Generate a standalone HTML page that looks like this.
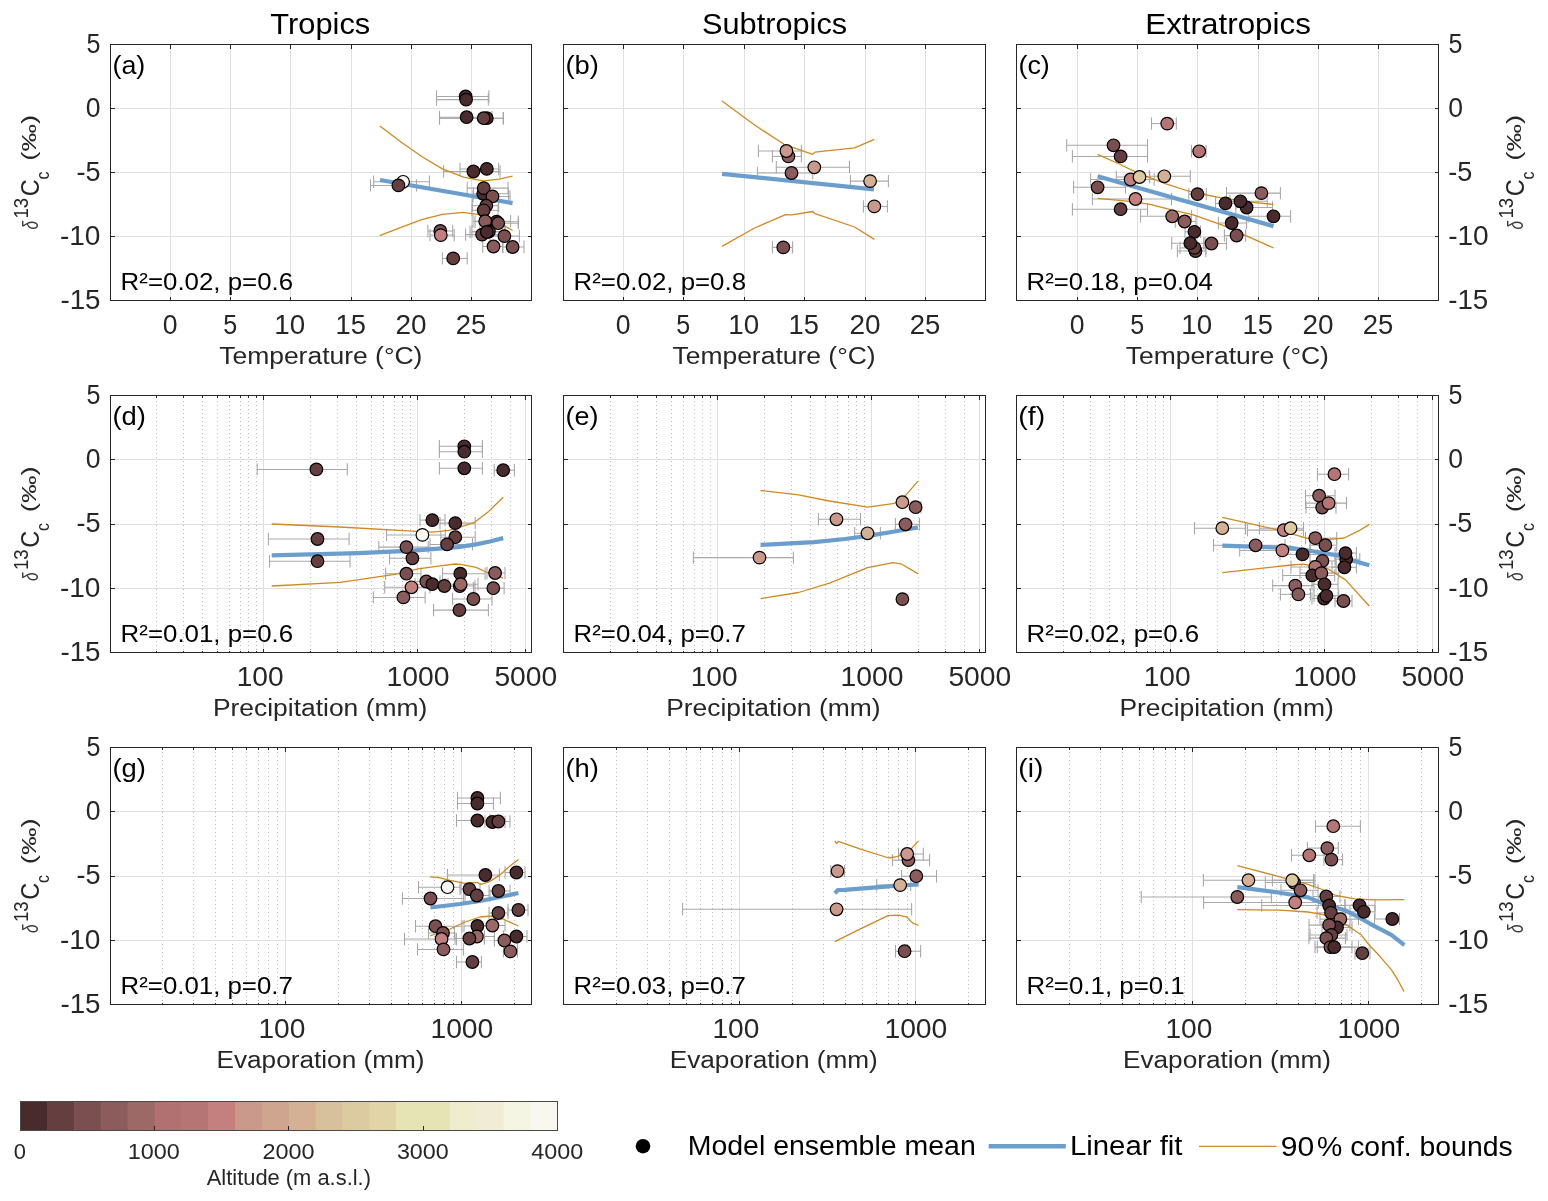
<!DOCTYPE html><html><head><meta charset="utf-8"><style>html,body{margin:0;padding:0;background:#fff;overflow:hidden}svg{display:block;will-change:transform}text{font-family:"Liberation Sans",sans-serif;white-space:pre}</style></head><body>
<svg width="1548" height="1201" viewBox="0 0 1548 1201">
<rect width="1548" height="1201" fill="#fff"/>
<g shape-rendering="crispEdges"><line x1="170.5" y1="300.5" x2="170.5" y2="44.5" stroke="#dfdfdf"/><line x1="230.5" y1="300.5" x2="230.5" y2="44.5" stroke="#dfdfdf"/><line x1="290.5" y1="300.5" x2="290.5" y2="44.5" stroke="#dfdfdf"/><line x1="351.5" y1="300.5" x2="351.5" y2="44.5" stroke="#dfdfdf"/><line x1="411.5" y1="300.5" x2="411.5" y2="44.5" stroke="#dfdfdf"/><line x1="471.5" y1="300.5" x2="471.5" y2="44.5" stroke="#dfdfdf"/><line x1="110.5" y1="236.5" x2="531.5" y2="236.5" stroke="#dfdfdf"/><line x1="110.5" y1="172.5" x2="531.5" y2="172.5" stroke="#dfdfdf"/><line x1="110.5" y1="108.5" x2="531.5" y2="108.5" stroke="#dfdfdf"/></g>
<g stroke="#a9a9a9" stroke-width="1.05" fill="none"><path d="M436.5 96.5H488.9"/><path d="M436.5 99.6H488.3"/><path d="M439.5 117.2H492"/><path d="M439.5 118.2H503.3"/><path d="M439.5 118.2H503.3"/><path d="M443.6 171.5H500"/><path d="M460 168.9H498.7"/><path d="M373.6 181.8H429.4"/><path d="M370.5 185.4H416.5"/><path d="M473.4 193.8H508.5"/><path d="M467.2 188.1H508"/><path d="M473 196.4H510"/><path d="M472.3 205.7H498.7"/><path d="M472 210.3H498"/><path d="M475 221.7H518.3"/><path d="M473 221.2H510.6"/><path d="M480 223.2H518.3"/><path d="M427.9 231H452.7"/><path d="M430 235.1H454.2"/><path d="M465.6 234.6H502.8"/><path d="M472 231.5H505"/><path d="M470 232H505"/><path d="M490 236.1H519.4"/><path d="M482.7 246.5H502.8"/><path d="M502.8 247H524"/><path d="M442.4 258.4H467.2"/></g>
<g stroke="#a6a6a6" stroke-width="1.05" fill="none"><path d="M436.5 90.3V102.7M488.9 90.3V102.7"/><path d="M436.5 93.4V105.8M488.3 93.4V105.8"/><path d="M439.5 111V123.4M492 111V123.4"/><path d="M439.5 112V124.4M503.3 112V124.4"/><path d="M439.5 112V124.4M503.3 112V124.4"/><path d="M443.6 165.3V177.7M500 165.3V177.7"/><path d="M460 162.7V175.1M498.7 162.7V175.1"/><path d="M373.6 175.6V188M429.4 175.6V188"/><path d="M370.5 179.2V191.6M416.5 179.2V191.6"/><path d="M473.4 187.6V200M508.5 187.6V200"/><path d="M467.2 181.9V194.3M508 181.9V194.3"/><path d="M473 190.2V202.6M510 190.2V202.6"/><path d="M472.3 199.5V211.9M498.7 199.5V211.9"/><path d="M472 204.1V216.5M498 204.1V216.5"/><path d="M475 215.5V227.9M518.3 215.5V227.9"/><path d="M473 215V227.4M510.6 215V227.4"/><path d="M480 217V229.4M518.3 217V229.4"/><path d="M427.9 224.8V237.2M452.7 224.8V237.2"/><path d="M430 228.9V241.3M454.2 228.9V241.3"/><path d="M465.6 228.4V240.8M502.8 228.4V240.8"/><path d="M472 225.3V237.7M505 225.3V237.7"/><path d="M470 225.8V238.2M505 225.8V238.2"/><path d="M490 229.9V242.3M519.4 229.9V242.3"/><path d="M482.7 240.3V252.7M502.8 240.3V252.7"/><path d="M502.8 240.8V253.2M524 240.8V253.2"/><path d="M442.4 252.2V264.6M467.2 252.2V264.6"/></g>
<polyline points="380,180 512.6,203.1" fill="none" stroke="#6b9dcd" stroke-width="4.2" stroke-linejoin="round"/>
<polyline points="379.8,126 401,142 421.7,156.5 442.4,168.9 463.5,177.2 473.4,179.2 483.7,180.8 499.2,179.2 512.6,176.1" fill="none" stroke="#cf8a22" stroke-width="1.3" stroke-linejoin="round"/>
<polyline points="379.8,235.6 401,227.4 421.7,219.6 442.4,214.4 463,212.4 477.5,214.4 488.9,216.5 504.4,225.8 512.6,230.5" fill="none" stroke="#cf8a22" stroke-width="1.3" stroke-linejoin="round"/>
<g stroke="#000" stroke-width="1.2"><circle cx="465.6" cy="96.5" r="6.3" fill="#4a2b2d"/><circle cx="466.1" cy="99.6" r="6.3" fill="#4a2b2d"/><circle cx="466.6" cy="117.2" r="6.3" fill="#4a2b2d"/><circle cx="486.8" cy="118.2" r="6.3" fill="#4a2b2d"/><circle cx="483.7" cy="118.2" r="6.3" fill="#653e3f"/><circle cx="473.4" cy="171.5" r="6.3" fill="#4a2b2d"/><circle cx="486.8" cy="168.9" r="6.3" fill="#4a2b2d"/><circle cx="403.1" cy="181.8" r="6.3" fill="#f9f8f0"/><circle cx="398.4" cy="185.4" r="6.3" fill="#653e3f"/><circle cx="483.2" cy="193.8" r="6.3" fill="#4a2b2d"/><circle cx="483.7" cy="188.1" r="6.3" fill="#653e3f"/><circle cx="492.5" cy="196.4" r="6.3" fill="#7b4f50"/><circle cx="486.3" cy="205.7" r="6.3" fill="#653e3f"/><circle cx="483.7" cy="210.3" r="6.3" fill="#653e3f"/><circle cx="496.6" cy="221.7" r="6.3" fill="#4a2b2d"/><circle cx="485.2" cy="221.2" r="6.3" fill="#8c5c5c"/><circle cx="498.2" cy="223.2" r="6.3" fill="#7b4f50"/><circle cx="440.3" cy="231" r="6.3" fill="#7b4f50"/><circle cx="440.8" cy="235.1" r="6.3" fill="#c3807e"/><circle cx="482.1" cy="234.6" r="6.3" fill="#653e3f"/><circle cx="488.9" cy="231.5" r="6.3" fill="#653e3f"/><circle cx="486.8" cy="232" r="6.3" fill="#4a2b2d"/><circle cx="504.4" cy="236.1" r="6.3" fill="#7b4f50"/><circle cx="493.5" cy="246.5" r="6.3" fill="#8c5c5c"/><circle cx="512.6" cy="247" r="6.3" fill="#7b4f50"/><circle cx="453.2" cy="258.4" r="6.3" fill="#653e3f"/></g>
<g shape-rendering="crispEdges"><rect x="110.5" y="44.5" width="421" height="256" fill="none" stroke="#262626"/><path d="M170.5 300.5v-4M170.5 44.5v4M230.5 300.5v-4M230.5 44.5v4M290.5 300.5v-4M290.5 44.5v4M351.5 300.5v-4M351.5 44.5v4M411.5 300.5v-4M411.5 44.5v4M471.5 300.5v-4M471.5 44.5v4M110.5 300.5h4M531.5 300.5h-4M110.5 236.5h4M531.5 236.5h-4M110.5 172.5h4M531.5 172.5h-4M110.5 108.5h4M531.5 108.5h-4M110.5 44.5h4M531.5 44.5h-4" stroke="#262626" fill="none"/></g>
<g shape-rendering="crispEdges"><line x1="623.5" y1="300.5" x2="623.5" y2="44.5" stroke="#dfdfdf"/><line x1="683.5" y1="300.5" x2="683.5" y2="44.5" stroke="#dfdfdf"/><line x1="744.5" y1="300.5" x2="744.5" y2="44.5" stroke="#dfdfdf"/><line x1="804.5" y1="300.5" x2="804.5" y2="44.5" stroke="#dfdfdf"/><line x1="865.5" y1="300.5" x2="865.5" y2="44.5" stroke="#dfdfdf"/><line x1="925.5" y1="300.5" x2="925.5" y2="44.5" stroke="#dfdfdf"/><line x1="563.5" y1="236.5" x2="985.5" y2="236.5" stroke="#dfdfdf"/><line x1="563.5" y1="172.5" x2="985.5" y2="172.5" stroke="#dfdfdf"/><line x1="563.5" y1="108.5" x2="985.5" y2="108.5" stroke="#dfdfdf"/></g>
<g stroke="#a9a9a9" stroke-width="1.05" fill="none"><path d="M772.4 156.4H801.4"/><path d="M758.4 151H801.4"/><path d="M757.4 173H812.7"/><path d="M776.3 167.3H849.5"/><path d="M850.4 181.1H888.4"/><path d="M863.4 206.4H887.4"/><path d="M772.4 247.4H792.6"/></g>
<g stroke="#a6a6a6" stroke-width="1.05" fill="none"><path d="M772.4 150.2V162.6M801.4 150.2V162.6"/><path d="M758.4 144.8V157.2M801.4 144.8V157.2"/><path d="M757.4 166.8V179.2M812.7 166.8V179.2"/><path d="M776.3 161.1V173.5M849.5 161.1V173.5"/><path d="M850.4 174.9V187.3M888.4 174.9V187.3"/><path d="M863.4 200.2V212.6M887.4 200.2V212.6"/><path d="M772.4 241.2V253.6M792.6 241.2V253.6"/></g>
<polyline points="722,173.8 874,189.3" fill="none" stroke="#6b9dcd" stroke-width="4.2" stroke-linejoin="round"/>
<polyline points="722,100.9 754.6,125 784,144.3 812.7,154.4 815,152.1 854.6,147.9 874.3,139.4" fill="none" stroke="#cf8a22" stroke-width="1.3" stroke-linejoin="round"/>
<polyline points="722,246.4 754.6,228 785.6,214.6 791.8,214.9 812.7,211.5 815,213.6 854.6,227 874.3,239.4" fill="none" stroke="#cf8a22" stroke-width="1.3" stroke-linejoin="round"/>
<g stroke="#000" stroke-width="1.2"><circle cx="788.4" cy="156.4" r="6.3" fill="#8c5c5c"/><circle cx="786.4" cy="151" r="6.3" fill="#ca998b"/><circle cx="791.5" cy="173" r="6.3" fill="#8c5c5c"/><circle cx="814.3" cy="167.3" r="6.3" fill="#ca998b"/><circle cx="870.1" cy="181.1" r="6.3" fill="#d4b194"/><circle cx="874.3" cy="206.4" r="6.3" fill="#ca998b"/><circle cx="783.3" cy="247.4" r="6.3" fill="#7b4f50"/></g>
<g shape-rendering="crispEdges"><rect x="563.5" y="44.5" width="422" height="256" fill="none" stroke="#262626"/><path d="M623.5 300.5v-4M623.5 44.5v4M683.5 300.5v-4M683.5 44.5v4M744.5 300.5v-4M744.5 44.5v4M804.5 300.5v-4M804.5 44.5v4M865.5 300.5v-4M865.5 44.5v4M925.5 300.5v-4M925.5 44.5v4M563.5 300.5h4M985.5 300.5h-4M563.5 236.5h4M985.5 236.5h-4M563.5 172.5h4M985.5 172.5h-4M563.5 108.5h4M985.5 108.5h-4M563.5 44.5h4M985.5 44.5h-4" stroke="#262626" fill="none"/></g>
<g shape-rendering="crispEdges"><line x1="1077.5" y1="300.5" x2="1077.5" y2="44.5" stroke="#dfdfdf"/><line x1="1137.5" y1="300.5" x2="1137.5" y2="44.5" stroke="#dfdfdf"/><line x1="1197.5" y1="300.5" x2="1197.5" y2="44.5" stroke="#dfdfdf"/><line x1="1258.5" y1="300.5" x2="1258.5" y2="44.5" stroke="#dfdfdf"/><line x1="1318.5" y1="300.5" x2="1318.5" y2="44.5" stroke="#dfdfdf"/><line x1="1378.5" y1="300.5" x2="1378.5" y2="44.5" stroke="#dfdfdf"/><line x1="1016.5" y1="236.5" x2="1438.5" y2="236.5" stroke="#dfdfdf"/><line x1="1016.5" y1="172.5" x2="1438.5" y2="172.5" stroke="#dfdfdf"/><line x1="1016.5" y1="108.5" x2="1438.5" y2="108.5" stroke="#dfdfdf"/></g>
<g stroke="#a9a9a9" stroke-width="1.05" fill="none"><path d="M1151.5 123.6H1176.3"/><path d="M1066.7 145.3H1147.5"/><path d="M1072.4 156.4H1147.5"/><path d="M1191.5 151.3H1206.1"/><path d="M1090.6 179.5H1154.2"/><path d="M1116.3 177H1149.7"/><path d="M1149.3 176.3H1190.3"/><path d="M1073.6 187.3H1125.5"/><path d="M1092.4 199H1171.5"/><path d="M1072.4 209.2H1147.5"/><path d="M1188.8 194.1H1206.3"/><path d="M1140.6 216.3H1191.5"/><path d="M1175.3 221.5H1196"/><path d="M1215.6 203.4H1235.8"/><path d="M1235.8 207.5H1272.5"/><path d="M1230 201.3H1267.3"/><path d="M1226.5 193.1H1280.4"/><path d="M1248.2 216.3H1290.6"/><path d="M1218.4 223H1246.6"/><path d="M1224.4 235.5H1245.6"/><path d="M1185 231.8H1200.5"/><path d="M1177.4 251H1205.8"/><path d="M1180 247.9H1206"/><path d="M1171.7 243.2H1205"/><path d="M1203.7 243.5H1226.5"/></g>
<g stroke="#a6a6a6" stroke-width="1.05" fill="none"><path d="M1151.5 117.4V129.8M1176.3 117.4V129.8"/><path d="M1066.7 139.1V151.5M1147.5 139.1V151.5"/><path d="M1072.4 150.2V162.6M1147.5 150.2V162.6"/><path d="M1191.5 145.1V157.5M1206.1 145.1V157.5"/><path d="M1090.6 173.3V185.7M1154.2 173.3V185.7"/><path d="M1116.3 170.8V183.2M1149.7 170.8V183.2"/><path d="M1149.3 170.1V182.5M1190.3 170.1V182.5"/><path d="M1073.6 181.1V193.5M1125.5 181.1V193.5"/><path d="M1092.4 192.8V205.2M1171.5 192.8V205.2"/><path d="M1072.4 203V215.4M1147.5 203V215.4"/><path d="M1188.8 187.9V200.3M1206.3 187.9V200.3"/><path d="M1140.6 210.1V222.5M1191.5 210.1V222.5"/><path d="M1175.3 215.3V227.7M1196 215.3V227.7"/><path d="M1215.6 197.2V209.6M1235.8 197.2V209.6"/><path d="M1235.8 201.3V213.7M1272.5 201.3V213.7"/><path d="M1230 195.1V207.5M1267.3 195.1V207.5"/><path d="M1226.5 186.9V199.3M1280.4 186.9V199.3"/><path d="M1248.2 210.1V222.5M1290.6 210.1V222.5"/><path d="M1218.4 216.8V229.2M1246.6 216.8V229.2"/><path d="M1224.4 229.3V241.7M1245.6 229.3V241.7"/><path d="M1185 225.6V238M1200.5 225.6V238"/><path d="M1177.4 244.8V257.2M1205.8 244.8V257.2"/><path d="M1180 241.7V254.1M1206 241.7V254.1"/><path d="M1171.7 237V249.4M1205 237V249.4"/><path d="M1203.7 237.3V249.7M1226.5 237.3V249.7"/></g>
<polyline points="1097.6,176.2 1273.5,226.2" fill="none" stroke="#6b9dcd" stroke-width="4.2" stroke-linejoin="round"/>
<polyline points="1097.6,154.4 1119.3,164 1135.3,171.9 1150,177.6 1164.5,183.3 1191.3,192 1222.4,198.2 1253.4,202.4 1273.5,204.4" fill="none" stroke="#cf8a22" stroke-width="1.3" stroke-linejoin="round"/>
<polyline points="1097.6,198.3 1129.9,201.3 1150,204.4 1170.7,209.6 1193.4,214.8 1222.4,225.1 1243,234.4 1273.5,247.9" fill="none" stroke="#cf8a22" stroke-width="1.3" stroke-linejoin="round"/>
<g stroke="#000" stroke-width="1.2"><circle cx="1167.2" cy="123.6" r="6.3" fill="#b57574"/><circle cx="1113.5" cy="145.3" r="6.3" fill="#7b4f50"/><circle cx="1120.6" cy="156.4" r="6.3" fill="#653e3f"/><circle cx="1199.2" cy="151.3" r="6.3" fill="#b57574"/><circle cx="1130.6" cy="179.5" r="6.3" fill="#c3807e"/><circle cx="1139.5" cy="177" r="6.3" fill="#dccaa1"/><circle cx="1164.3" cy="176.3" r="6.3" fill="#d4b194"/><circle cx="1097.6" cy="187.3" r="6.3" fill="#7b4f50"/><circle cx="1135.5" cy="199" r="6.3" fill="#c3807e"/><circle cx="1120.6" cy="209.2" r="6.3" fill="#653e3f"/><circle cx="1197.5" cy="194.1" r="6.3" fill="#653e3f"/><circle cx="1172.2" cy="216.3" r="6.3" fill="#9d6967"/><circle cx="1184.6" cy="221.5" r="6.3" fill="#8c5c5c"/><circle cx="1225.5" cy="203.4" r="6.3" fill="#4a2b2d"/><circle cx="1246.6" cy="207.5" r="6.3" fill="#4a2b2d"/><circle cx="1240.4" cy="201.3" r="6.3" fill="#4a2b2d"/><circle cx="1261.4" cy="193.1" r="6.3" fill="#8c5c5c"/><circle cx="1273.5" cy="216.3" r="6.3" fill="#4a2b2d"/><circle cx="1231.7" cy="223" r="6.3" fill="#4a2b2d"/><circle cx="1236.6" cy="235.5" r="6.3" fill="#7b4f50"/><circle cx="1194.4" cy="231.8" r="6.3" fill="#4a2b2d"/><circle cx="1195.5" cy="251" r="6.3" fill="#653e3f"/><circle cx="1194.4" cy="247.9" r="6.3" fill="#653e3f"/><circle cx="1190.3" cy="243.2" r="6.3" fill="#4a2b2d"/><circle cx="1211.5" cy="243.5" r="6.3" fill="#7b4f50"/></g>
<g shape-rendering="crispEdges"><rect x="1016.5" y="44.5" width="422" height="256" fill="none" stroke="#262626"/><path d="M1077.5 300.5v-4M1077.5 44.5v4M1137.5 300.5v-4M1137.5 44.5v4M1197.5 300.5v-4M1197.5 44.5v4M1258.5 300.5v-4M1258.5 44.5v4M1318.5 300.5v-4M1318.5 44.5v4M1378.5 300.5v-4M1378.5 44.5v4M1016.5 300.5h4M1438.5 300.5h-4M1016.5 236.5h4M1438.5 236.5h-4M1016.5 172.5h4M1438.5 172.5h-4M1016.5 108.5h4M1438.5 108.5h-4M1016.5 44.5h4M1438.5 44.5h-4" stroke="#262626" fill="none"/></g>
<g shape-rendering="crispEdges"><line x1="156.5" y1="397" x2="156.5" y2="652.5" stroke="#b9b9b9" stroke-dasharray="1 3"/><line x1="183.5" y1="397" x2="183.5" y2="652.5" stroke="#b9b9b9" stroke-dasharray="1 3"/><line x1="202.5" y1="397" x2="202.5" y2="652.5" stroke="#b9b9b9" stroke-dasharray="1 3"/><line x1="217.5" y1="397" x2="217.5" y2="652.5" stroke="#b9b9b9" stroke-dasharray="1 3"/><line x1="229.5" y1="397" x2="229.5" y2="652.5" stroke="#b9b9b9" stroke-dasharray="1 3"/><line x1="240.5" y1="397" x2="240.5" y2="652.5" stroke="#b9b9b9" stroke-dasharray="1 3"/><line x1="248.5" y1="397" x2="248.5" y2="652.5" stroke="#b9b9b9" stroke-dasharray="1 3"/><line x1="256.5" y1="397" x2="256.5" y2="652.5" stroke="#b9b9b9" stroke-dasharray="1 3"/><line x1="310.5" y1="397" x2="310.5" y2="652.5" stroke="#b9b9b9" stroke-dasharray="1 3"/><line x1="337.5" y1="397" x2="337.5" y2="652.5" stroke="#b9b9b9" stroke-dasharray="1 3"/><line x1="356.5" y1="397" x2="356.5" y2="652.5" stroke="#b9b9b9" stroke-dasharray="1 3"/><line x1="371.5" y1="397" x2="371.5" y2="652.5" stroke="#b9b9b9" stroke-dasharray="1 3"/><line x1="383.5" y1="397" x2="383.5" y2="652.5" stroke="#b9b9b9" stroke-dasharray="1 3"/><line x1="394.5" y1="397" x2="394.5" y2="652.5" stroke="#b9b9b9" stroke-dasharray="1 3"/><line x1="402.5" y1="397" x2="402.5" y2="652.5" stroke="#b9b9b9" stroke-dasharray="1 3"/><line x1="410.5" y1="397" x2="410.5" y2="652.5" stroke="#b9b9b9" stroke-dasharray="1 3"/><line x1="464.5" y1="397" x2="464.5" y2="652.5" stroke="#b9b9b9" stroke-dasharray="1 3"/><line x1="491.5" y1="397" x2="491.5" y2="652.5" stroke="#b9b9b9" stroke-dasharray="1 3"/><line x1="510.5" y1="397" x2="510.5" y2="652.5" stroke="#b9b9b9" stroke-dasharray="1 3"/><line x1="263.5" y1="652.5" x2="263.5" y2="395.5" stroke="#dfdfdf"/><line x1="417.5" y1="652.5" x2="417.5" y2="395.5" stroke="#dfdfdf"/><line x1="525.5" y1="652.5" x2="525.5" y2="395.5" stroke="#dfdfdf"/><line x1="110.5" y1="588.5" x2="531.5" y2="588.5" stroke="#dfdfdf"/><line x1="110.5" y1="524.5" x2="531.5" y2="524.5" stroke="#dfdfdf"/><line x1="110.5" y1="459.5" x2="531.5" y2="459.5" stroke="#dfdfdf"/></g>
<g stroke="#a9a9a9" stroke-width="1.05" fill="none"><path d="M439.4 446.3H482.4"/><path d="M439.4 451.7H482.4"/><path d="M439.4 468.3H482.4"/><path d="M494.2 470.2H514.4"/><path d="M257.2 469.4H347.3"/><path d="M420 520.1H445"/><path d="M440 523.1H475.2"/><path d="M386.6 534.9H445.3"/><path d="M440.8 537.2H475.2"/><path d="M430 544.4H472.5"/><path d="M378.8 547.1H428.2"/><path d="M268.4 539H349.1"/><path d="M389.6 558.3H430.9"/><path d="M269.5 561.2H350"/><path d="M385.6 573.7H421"/><path d="M442.6 573.7H485.1"/><path d="M487 573H505"/><path d="M410 581.5H440"/><path d="M415 584.2H448"/><path d="M430 586H460"/><path d="M440 586H475"/><path d="M445 584.2H478"/><path d="M473.4 588.2H504.1"/><path d="M384.7 587.3H430"/><path d="M373.3 597.4H425.1"/><path d="M452.6 599H492"/><path d="M433.6 610.1H488.4"/></g>
<g stroke="#a6a6a6" stroke-width="1.05" fill="none"><path d="M439.4 440.1V452.5M482.4 440.1V452.5"/><path d="M439.4 445.5V457.9M482.4 445.5V457.9"/><path d="M439.4 462.1V474.5M482.4 462.1V474.5"/><path d="M494.2 464V476.4M514.4 464V476.4"/><path d="M257.2 463.2V475.6M347.3 463.2V475.6"/><path d="M420 513.9V526.3M445 513.9V526.3"/><path d="M440 516.9V529.3M475.2 516.9V529.3"/><path d="M386.6 528.7V541.1M445.3 528.7V541.1"/><path d="M440.8 531V543.4M475.2 531V543.4"/><path d="M430 538.2V550.6M472.5 538.2V550.6"/><path d="M378.8 540.9V553.3M428.2 540.9V553.3"/><path d="M268.4 532.8V545.2M349.1 532.8V545.2"/><path d="M389.6 552.1V564.5M430.9 552.1V564.5"/><path d="M269.5 555V567.4M350 555V567.4"/><path d="M385.6 567.5V579.9M421 567.5V579.9"/><path d="M442.6 567.5V579.9M485.1 567.5V579.9"/><path d="M487 566.8V579.2M505 566.8V579.2"/><path d="M410 575.3V587.7M440 575.3V587.7"/><path d="M415 578V590.4M448 578V590.4"/><path d="M430 579.8V592.2M460 579.8V592.2"/><path d="M440 579.8V592.2M475 579.8V592.2"/><path d="M445 578V590.4M478 578V590.4"/><path d="M473.4 582V594.4M504.1 582V594.4"/><path d="M384.7 581.1V593.5M430 581.1V593.5"/><path d="M373.3 591.2V603.6M425.1 591.2V603.6"/><path d="M452.6 592.8V605.2M492 592.8V605.2"/><path d="M433.6 603.9V616.3M488.4 603.9V616.3"/></g>
<polyline points="271.7,555.3 358.5,553.1 412.8,550.7 458,547.1 476.1,544.4 490,541.5 503.2,538.1" fill="none" stroke="#6b9dcd" stroke-width="4.2" stroke-linejoin="round"/>
<polyline points="271.7,524 340,527 416.4,531.3 432.7,532.2 449,530.4 474.3,522.6 488.7,511.4 503.2,497.3" fill="none" stroke="#cf8a22" stroke-width="1.3" stroke-linejoin="round"/>
<polyline points="271.7,586 340.4,582.4 394.7,574.3 418.2,568.8 438.1,566.1 455.3,564 460.7,564.3 476.1,567.4 487,572.5 503.2,578.2" fill="none" stroke="#cf8a22" stroke-width="1.3" stroke-linejoin="round"/>
<g stroke="#000" stroke-width="1.2"><circle cx="464.3" cy="446.3" r="6.3" fill="#4a2b2d"/><circle cx="464.3" cy="451.7" r="6.3" fill="#4a2b2d"/><circle cx="464.3" cy="468.3" r="6.3" fill="#4a2b2d"/><circle cx="503.2" cy="470.2" r="6.3" fill="#4a2b2d"/><circle cx="316.4" cy="469.4" r="6.3" fill="#653e3f"/><circle cx="432.3" cy="520.1" r="6.3" fill="#4a2b2d"/><circle cx="455.3" cy="523.1" r="6.3" fill="#4a2b2d"/><circle cx="422.4" cy="534.9" r="6.3" fill="#f9f8f0"/><circle cx="455.3" cy="537.2" r="6.3" fill="#653e3f"/><circle cx="447.1" cy="544.4" r="6.3" fill="#653e3f"/><circle cx="406.4" cy="547.1" r="6.3" fill="#7b4f50"/><circle cx="317.5" cy="539" r="6.3" fill="#653e3f"/><circle cx="412.4" cy="558.3" r="6.3" fill="#653e3f"/><circle cx="317.5" cy="561.2" r="6.3" fill="#653e3f"/><circle cx="406.4" cy="573.7" r="6.3" fill="#7b4f50"/><circle cx="460.3" cy="573.7" r="6.3" fill="#4a2b2d"/><circle cx="495.1" cy="573" r="6.3" fill="#8c5c5c"/><circle cx="426.3" cy="581.5" r="6.3" fill="#7b4f50"/><circle cx="432.3" cy="584.2" r="6.3" fill="#4a2b2d"/><circle cx="444.4" cy="586" r="6.3" fill="#653e3f"/><circle cx="459.8" cy="586" r="6.3" fill="#8c5c5c"/><circle cx="460.7" cy="584.2" r="6.3" fill="#9d6967"/><circle cx="493.3" cy="588.2" r="6.3" fill="#7b4f50"/><circle cx="411.5" cy="587.3" r="6.3" fill="#c3807e"/><circle cx="403.4" cy="597.4" r="6.3" fill="#8c5c5c"/><circle cx="473.4" cy="599" r="6.3" fill="#7b4f50"/><circle cx="459.4" cy="610.1" r="6.3" fill="#653e3f"/></g>
<g shape-rendering="crispEdges"><rect x="110.5" y="395.5" width="421" height="257" fill="none" stroke="#262626"/><path d="M263.5 652.5v-4M263.5 395.5v4M417.5 652.5v-4M417.5 395.5v4M525.5 652.5v-4M525.5 395.5v4M156.5 652.5v-2M156.5 395.5v2M183.5 652.5v-2M183.5 395.5v2M202.5 652.5v-2M202.5 395.5v2M217.5 652.5v-2M217.5 395.5v2M229.5 652.5v-2M229.5 395.5v2M240.5 652.5v-2M240.5 395.5v2M248.5 652.5v-2M248.5 395.5v2M256.5 652.5v-2M256.5 395.5v2M310.5 652.5v-2M310.5 395.5v2M337.5 652.5v-2M337.5 395.5v2M356.5 652.5v-2M356.5 395.5v2M371.5 652.5v-2M371.5 395.5v2M383.5 652.5v-2M383.5 395.5v2M394.5 652.5v-2M394.5 395.5v2M402.5 652.5v-2M402.5 395.5v2M410.5 652.5v-2M410.5 395.5v2M464.5 652.5v-2M464.5 395.5v2M491.5 652.5v-2M491.5 395.5v2M510.5 652.5v-2M510.5 395.5v2M110.5 652.5h4M531.5 652.5h-4M110.5 588.5h4M531.5 588.5h-4M110.5 524.5h4M531.5 524.5h-4M110.5 459.5h4M531.5 459.5h-4M110.5 395.5h4M531.5 395.5h-4" stroke="#262626" fill="none"/></g>
<g shape-rendering="crispEdges"><line x1="610.5" y1="397" x2="610.5" y2="652.5" stroke="#b9b9b9" stroke-dasharray="1 3"/><line x1="637.5" y1="397" x2="637.5" y2="652.5" stroke="#b9b9b9" stroke-dasharray="1 3"/><line x1="656.5" y1="397" x2="656.5" y2="652.5" stroke="#b9b9b9" stroke-dasharray="1 3"/><line x1="671.5" y1="397" x2="671.5" y2="652.5" stroke="#b9b9b9" stroke-dasharray="1 3"/><line x1="683.5" y1="397" x2="683.5" y2="652.5" stroke="#b9b9b9" stroke-dasharray="1 3"/><line x1="694.5" y1="397" x2="694.5" y2="652.5" stroke="#b9b9b9" stroke-dasharray="1 3"/><line x1="702.5" y1="397" x2="702.5" y2="652.5" stroke="#b9b9b9" stroke-dasharray="1 3"/><line x1="710.5" y1="397" x2="710.5" y2="652.5" stroke="#b9b9b9" stroke-dasharray="1 3"/><line x1="764.5" y1="397" x2="764.5" y2="652.5" stroke="#b9b9b9" stroke-dasharray="1 3"/><line x1="791.5" y1="397" x2="791.5" y2="652.5" stroke="#b9b9b9" stroke-dasharray="1 3"/><line x1="810.5" y1="397" x2="810.5" y2="652.5" stroke="#b9b9b9" stroke-dasharray="1 3"/><line x1="825.5" y1="397" x2="825.5" y2="652.5" stroke="#b9b9b9" stroke-dasharray="1 3"/><line x1="837.5" y1="397" x2="837.5" y2="652.5" stroke="#b9b9b9" stroke-dasharray="1 3"/><line x1="848.5" y1="397" x2="848.5" y2="652.5" stroke="#b9b9b9" stroke-dasharray="1 3"/><line x1="856.5" y1="397" x2="856.5" y2="652.5" stroke="#b9b9b9" stroke-dasharray="1 3"/><line x1="864.5" y1="397" x2="864.5" y2="652.5" stroke="#b9b9b9" stroke-dasharray="1 3"/><line x1="918.5" y1="397" x2="918.5" y2="652.5" stroke="#b9b9b9" stroke-dasharray="1 3"/><line x1="945.5" y1="397" x2="945.5" y2="652.5" stroke="#b9b9b9" stroke-dasharray="1 3"/><line x1="964.5" y1="397" x2="964.5" y2="652.5" stroke="#b9b9b9" stroke-dasharray="1 3"/><line x1="717.5" y1="652.5" x2="717.5" y2="395.5" stroke="#dfdfdf"/><line x1="871.5" y1="652.5" x2="871.5" y2="395.5" stroke="#dfdfdf"/><line x1="979.5" y1="652.5" x2="979.5" y2="395.5" stroke="#dfdfdf"/><line x1="563.5" y1="588.5" x2="985.5" y2="588.5" stroke="#dfdfdf"/><line x1="563.5" y1="524.5" x2="985.5" y2="524.5" stroke="#dfdfdf"/><line x1="563.5" y1="459.5" x2="985.5" y2="459.5" stroke="#dfdfdf"/></g>
<g stroke="#a9a9a9" stroke-width="1.05" fill="none"><path d="M818.4 519.3H860.5"/><path d="M854.7 533.3H880.4"/><path d="M693.4 557.6H793.4"/><path d="M915.6 507.2H921"/><path d="M895.4 524.3H919.5"/></g>
<g stroke="#a6a6a6" stroke-width="1.05" fill="none"><path d="M818.4 513.1V525.5M860.5 513.1V525.5"/><path d="M854.7 527.1V539.5M880.4 527.1V539.5"/><path d="M693.4 551.4V563.8M793.4 551.4V563.8"/><path d="M915.6 501V513.4M921 501V513.4"/><path d="M895.4 518.1V530.5M919.5 518.1V530.5"/></g>
<polyline points="760.5,544.9 814,542.1 845,539 868.3,535.9 891.6,532 917.9,527.4" fill="none" stroke="#6b9dcd" stroke-width="4.2" stroke-linejoin="round"/>
<polyline points="760.5,490.5 798.5,494.8 829.5,501 867.5,507.2 894.7,503.3 905.5,495.6 917.9,481.2" fill="none" stroke="#cf8a22" stroke-width="1.3" stroke-linejoin="round"/>
<polyline points="760.5,598.7 798.5,592.5 829.5,583.2 867.5,567.7 893.1,562.6 900.9,563.8 917.9,573.6" fill="none" stroke="#cf8a22" stroke-width="1.3" stroke-linejoin="round"/>
<g stroke="#000" stroke-width="1.2"><circle cx="836.5" cy="519.3" r="6.3" fill="#ca998b"/><circle cx="867.5" cy="533.3" r="6.3" fill="#d4b194"/><circle cx="759.5" cy="557.6" r="6.3" fill="#ca998b"/><circle cx="902.4" cy="502.2" r="6.3" fill="#ca998b"/><circle cx="915.6" cy="507.2" r="6.3" fill="#8c5c5c"/><circle cx="905.5" cy="524.3" r="6.3" fill="#8c5c5c"/><circle cx="902.4" cy="599.1" r="6.3" fill="#7b4f50"/></g>
<g shape-rendering="crispEdges"><rect x="563.5" y="395.5" width="422" height="257" fill="none" stroke="#262626"/><path d="M717.5 652.5v-4M717.5 395.5v4M871.5 652.5v-4M871.5 395.5v4M979.5 652.5v-4M979.5 395.5v4M610.5 652.5v-2M610.5 395.5v2M637.5 652.5v-2M637.5 395.5v2M656.5 652.5v-2M656.5 395.5v2M671.5 652.5v-2M671.5 395.5v2M683.5 652.5v-2M683.5 395.5v2M694.5 652.5v-2M694.5 395.5v2M702.5 652.5v-2M702.5 395.5v2M710.5 652.5v-2M710.5 395.5v2M764.5 652.5v-2M764.5 395.5v2M791.5 652.5v-2M791.5 395.5v2M810.5 652.5v-2M810.5 395.5v2M825.5 652.5v-2M825.5 395.5v2M837.5 652.5v-2M837.5 395.5v2M848.5 652.5v-2M848.5 395.5v2M856.5 652.5v-2M856.5 395.5v2M864.5 652.5v-2M864.5 395.5v2M918.5 652.5v-2M918.5 395.5v2M945.5 652.5v-2M945.5 395.5v2M964.5 652.5v-2M964.5 395.5v2M563.5 652.5h4M985.5 652.5h-4M563.5 588.5h4M985.5 588.5h-4M563.5 524.5h4M985.5 524.5h-4M563.5 459.5h4M985.5 459.5h-4M563.5 395.5h4M985.5 395.5h-4" stroke="#262626" fill="none"/></g>
<g shape-rendering="crispEdges"><line x1="1063.5" y1="397" x2="1063.5" y2="652.5" stroke="#b9b9b9" stroke-dasharray="1 3"/><line x1="1090.5" y1="397" x2="1090.5" y2="652.5" stroke="#b9b9b9" stroke-dasharray="1 3"/><line x1="1109.5" y1="397" x2="1109.5" y2="652.5" stroke="#b9b9b9" stroke-dasharray="1 3"/><line x1="1124.5" y1="397" x2="1124.5" y2="652.5" stroke="#b9b9b9" stroke-dasharray="1 3"/><line x1="1136.5" y1="397" x2="1136.5" y2="652.5" stroke="#b9b9b9" stroke-dasharray="1 3"/><line x1="1147.5" y1="397" x2="1147.5" y2="652.5" stroke="#b9b9b9" stroke-dasharray="1 3"/><line x1="1155.5" y1="397" x2="1155.5" y2="652.5" stroke="#b9b9b9" stroke-dasharray="1 3"/><line x1="1163.5" y1="397" x2="1163.5" y2="652.5" stroke="#b9b9b9" stroke-dasharray="1 3"/><line x1="1217.5" y1="397" x2="1217.5" y2="652.5" stroke="#b9b9b9" stroke-dasharray="1 3"/><line x1="1244.5" y1="397" x2="1244.5" y2="652.5" stroke="#b9b9b9" stroke-dasharray="1 3"/><line x1="1263.5" y1="397" x2="1263.5" y2="652.5" stroke="#b9b9b9" stroke-dasharray="1 3"/><line x1="1278.5" y1="397" x2="1278.5" y2="652.5" stroke="#b9b9b9" stroke-dasharray="1 3"/><line x1="1290.5" y1="397" x2="1290.5" y2="652.5" stroke="#b9b9b9" stroke-dasharray="1 3"/><line x1="1301.5" y1="397" x2="1301.5" y2="652.5" stroke="#b9b9b9" stroke-dasharray="1 3"/><line x1="1309.5" y1="397" x2="1309.5" y2="652.5" stroke="#b9b9b9" stroke-dasharray="1 3"/><line x1="1317.5" y1="397" x2="1317.5" y2="652.5" stroke="#b9b9b9" stroke-dasharray="1 3"/><line x1="1371.5" y1="397" x2="1371.5" y2="652.5" stroke="#b9b9b9" stroke-dasharray="1 3"/><line x1="1398.5" y1="397" x2="1398.5" y2="652.5" stroke="#b9b9b9" stroke-dasharray="1 3"/><line x1="1417.5" y1="397" x2="1417.5" y2="652.5" stroke="#b9b9b9" stroke-dasharray="1 3"/><line x1="1170.5" y1="652.5" x2="1170.5" y2="395.5" stroke="#dfdfdf"/><line x1="1324.5" y1="652.5" x2="1324.5" y2="395.5" stroke="#dfdfdf"/><line x1="1432.5" y1="652.5" x2="1432.5" y2="395.5" stroke="#dfdfdf"/><line x1="1016.5" y1="588.5" x2="1438.5" y2="588.5" stroke="#dfdfdf"/><line x1="1016.5" y1="524.5" x2="1438.5" y2="524.5" stroke="#dfdfdf"/><line x1="1016.5" y1="459.5" x2="1438.5" y2="459.5" stroke="#dfdfdf"/></g>
<g stroke="#a9a9a9" stroke-width="1.05" fill="none"><path d="M1317.4 474.2H1348.6"/><path d="M1305.5 495.7H1335"/><path d="M1306 507.5H1336"/><path d="M1305.5 503.1H1346.5"/><path d="M1194.5 528.2H1245.5"/><path d="M1247.4 530.1H1303.5"/><path d="M1259.4 528.2H1303.5"/><path d="M1305.5 538.1H1336.7"/><path d="M1310 545.2H1336.7"/><path d="M1213.5 545.3H1285"/><path d="M1239.7 550.4H1310"/><path d="M1280 554.4H1325"/><path d="M1335 559.2H1359.8"/><path d="M1335 553.1H1356.4"/><path d="M1332 567.3H1356.4"/><path d="M1310 560.9H1336"/><path d="M1291 566.9H1336"/><path d="M1282.7 575.4H1334.7"/><path d="M1300 573.1H1338.7"/><path d="M1312 584.3H1338"/><path d="M1272.7 585.6H1314"/><path d="M1280.4 594.4H1310.5"/><path d="M1312 598.5H1338"/><path d="M1314 595.8H1338.7"/><path d="M1335 601H1352"/></g>
<g stroke="#a6a6a6" stroke-width="1.05" fill="none"><path d="M1317.4 468V480.4M1348.6 468V480.4"/><path d="M1305.5 489.5V501.9M1335 489.5V501.9"/><path d="M1306 501.3V513.7M1336 501.3V513.7"/><path d="M1305.5 496.9V509.3M1346.5 496.9V509.3"/><path d="M1194.5 522V534.4M1245.5 522V534.4"/><path d="M1247.4 523.9V536.3M1303.5 523.9V536.3"/><path d="M1259.4 522V534.4M1303.5 522V534.4"/><path d="M1305.5 531.9V544.3M1336.7 531.9V544.3"/><path d="M1310 539V551.4M1336.7 539V551.4"/><path d="M1213.5 539.1V551.5M1285 539.1V551.5"/><path d="M1239.7 544.2V556.6M1310 544.2V556.6"/><path d="M1280 548.2V560.6M1325 548.2V560.6"/><path d="M1335 553V565.4M1359.8 553V565.4"/><path d="M1335 546.9V559.3M1356.4 546.9V559.3"/><path d="M1332 561.1V573.5M1356.4 561.1V573.5"/><path d="M1310 554.7V567.1M1336 554.7V567.1"/><path d="M1291 560.7V573.1M1336 560.7V573.1"/><path d="M1282.7 569.2V581.6M1334.7 569.2V581.6"/><path d="M1300 566.9V579.3M1338.7 566.9V579.3"/><path d="M1312 578.1V590.5M1338 578.1V590.5"/><path d="M1272.7 579.4V591.8M1314 579.4V591.8"/><path d="M1280.4 588.2V600.6M1310.5 588.2V600.6"/><path d="M1312 592.3V604.7M1338 592.3V604.7"/><path d="M1314 589.6V602M1338.7 589.6V602"/><path d="M1335 594.8V607.2M1352 594.8V607.2"/></g>
<polyline points="1222.3,545.6 1275,547.5 1288.5,547.6 1302.1,549.5 1315.7,551.7 1336,555.1 1349.6,559.8 1369.3,565.3" fill="none" stroke="#6b9dcd" stroke-width="4.2" stroke-linejoin="round"/>
<polyline points="1222.3,517.4 1277.7,529.9 1307.5,538.4 1329.2,539.4 1344.2,538 1359.1,530.7 1369.3,524.4" fill="none" stroke="#cf8a22" stroke-width="1.3" stroke-linejoin="round"/>
<polyline points="1222.3,572.7 1291.2,565 1302.8,564.2 1326.5,568 1345.5,579.9 1369.3,606" fill="none" stroke="#cf8a22" stroke-width="1.3" stroke-linejoin="round"/>
<g stroke="#000" stroke-width="1.2"><circle cx="1334.4" cy="474.2" r="6.3" fill="#b57574"/><circle cx="1319.1" cy="495.7" r="6.3" fill="#8c5c5c"/><circle cx="1322.2" cy="507.5" r="6.3" fill="#7b4f50"/><circle cx="1328.6" cy="503.1" r="6.3" fill="#b57574"/><circle cx="1222.3" cy="528.2" r="6.3" fill="#d4b194"/><circle cx="1283.8" cy="530.1" r="6.3" fill="#c3807e"/><circle cx="1290.6" cy="528.2" r="6.3" fill="#dccaa1"/><circle cx="1315.3" cy="538.1" r="6.3" fill="#8c5c5c"/><circle cx="1325.4" cy="545.2" r="6.3" fill="#7b4f50"/><circle cx="1255.6" cy="545.3" r="6.3" fill="#8c5c5c"/><circle cx="1282.4" cy="550.4" r="6.3" fill="#c3807e"/><circle cx="1302.5" cy="554.4" r="6.3" fill="#4a2b2d"/><circle cx="1346.2" cy="559.2" r="6.3" fill="#4a2b2d"/><circle cx="1345.5" cy="553.1" r="6.3" fill="#4a2b2d"/><circle cx="1344.4" cy="567.3" r="6.3" fill="#4a2b2d"/><circle cx="1322.4" cy="560.9" r="6.3" fill="#7b4f50"/><circle cx="1315.3" cy="566.9" r="6.3" fill="#b07170"/><circle cx="1312.3" cy="575.4" r="6.3" fill="#4a2b2d"/><circle cx="1321.4" cy="573.1" r="6.3" fill="#8c5c5c"/><circle cx="1324.5" cy="584.3" r="6.3" fill="#4a2b2d"/><circle cx="1295.3" cy="585.6" r="6.3" fill="#8c5c5c"/><circle cx="1298.4" cy="594.4" r="6.3" fill="#8c5c5c"/><circle cx="1324.1" cy="598.5" r="6.3" fill="#4a2b2d"/><circle cx="1326.5" cy="595.8" r="6.3" fill="#4a2b2d"/><circle cx="1343.5" cy="601" r="6.3" fill="#7b4f50"/></g>
<g shape-rendering="crispEdges"><rect x="1016.5" y="395.5" width="422" height="257" fill="none" stroke="#262626"/><path d="M1170.5 652.5v-4M1170.5 395.5v4M1324.5 652.5v-4M1324.5 395.5v4M1432.5 652.5v-4M1432.5 395.5v4M1063.5 652.5v-2M1063.5 395.5v2M1090.5 652.5v-2M1090.5 395.5v2M1109.5 652.5v-2M1109.5 395.5v2M1124.5 652.5v-2M1124.5 395.5v2M1136.5 652.5v-2M1136.5 395.5v2M1147.5 652.5v-2M1147.5 395.5v2M1155.5 652.5v-2M1155.5 395.5v2M1163.5 652.5v-2M1163.5 395.5v2M1217.5 652.5v-2M1217.5 395.5v2M1244.5 652.5v-2M1244.5 395.5v2M1263.5 652.5v-2M1263.5 395.5v2M1278.5 652.5v-2M1278.5 395.5v2M1290.5 652.5v-2M1290.5 395.5v2M1301.5 652.5v-2M1301.5 395.5v2M1309.5 652.5v-2M1309.5 395.5v2M1317.5 652.5v-2M1317.5 395.5v2M1371.5 652.5v-2M1371.5 395.5v2M1398.5 652.5v-2M1398.5 395.5v2M1417.5 652.5v-2M1417.5 395.5v2M1016.5 652.5h4M1438.5 652.5h-4M1016.5 588.5h4M1438.5 588.5h-4M1016.5 524.5h4M1438.5 524.5h-4M1016.5 459.5h4M1438.5 459.5h-4M1016.5 395.5h4M1438.5 395.5h-4" stroke="#262626" fill="none"/></g>
<g shape-rendering="crispEdges"><line x1="162.5" y1="748" x2="162.5" y2="1004.5" stroke="#b9b9b9" stroke-dasharray="1 3"/><line x1="193.5" y1="748" x2="193.5" y2="1004.5" stroke="#b9b9b9" stroke-dasharray="1 3"/><line x1="215.5" y1="748" x2="215.5" y2="1004.5" stroke="#b9b9b9" stroke-dasharray="1 3"/><line x1="232.5" y1="748" x2="232.5" y2="1004.5" stroke="#b9b9b9" stroke-dasharray="1 3"/><line x1="246.5" y1="748" x2="246.5" y2="1004.5" stroke="#b9b9b9" stroke-dasharray="1 3"/><line x1="258.5" y1="748" x2="258.5" y2="1004.5" stroke="#b9b9b9" stroke-dasharray="1 3"/><line x1="268.5" y1="748" x2="268.5" y2="1004.5" stroke="#b9b9b9" stroke-dasharray="1 3"/><line x1="277.5" y1="748" x2="277.5" y2="1004.5" stroke="#b9b9b9" stroke-dasharray="1 3"/><line x1="338.5" y1="748" x2="338.5" y2="1004.5" stroke="#b9b9b9" stroke-dasharray="1 3"/><line x1="369.5" y1="748" x2="369.5" y2="1004.5" stroke="#b9b9b9" stroke-dasharray="1 3"/><line x1="391.5" y1="748" x2="391.5" y2="1004.5" stroke="#b9b9b9" stroke-dasharray="1 3"/><line x1="408.5" y1="748" x2="408.5" y2="1004.5" stroke="#b9b9b9" stroke-dasharray="1 3"/><line x1="422.5" y1="748" x2="422.5" y2="1004.5" stroke="#b9b9b9" stroke-dasharray="1 3"/><line x1="434.5" y1="748" x2="434.5" y2="1004.5" stroke="#b9b9b9" stroke-dasharray="1 3"/><line x1="444.5" y1="748" x2="444.5" y2="1004.5" stroke="#b9b9b9" stroke-dasharray="1 3"/><line x1="453.5" y1="748" x2="453.5" y2="1004.5" stroke="#b9b9b9" stroke-dasharray="1 3"/><line x1="514.5" y1="748" x2="514.5" y2="1004.5" stroke="#b9b9b9" stroke-dasharray="1 3"/><line x1="285.5" y1="1004.5" x2="285.5" y2="747.5" stroke="#dfdfdf"/><line x1="461.5" y1="1004.5" x2="461.5" y2="747.5" stroke="#dfdfdf"/><line x1="110.5" y1="940.5" x2="531.5" y2="940.5" stroke="#dfdfdf"/><line x1="110.5" y1="876.5" x2="531.5" y2="876.5" stroke="#dfdfdf"/><line x1="110.5" y1="811.5" x2="531.5" y2="811.5" stroke="#dfdfdf"/></g>
<g stroke="#a9a9a9" stroke-width="1.05" fill="none"><path d="M457.5 798H500.4"/><path d="M457.5 803.5H493.4"/><path d="M456.5 820.5H490"/><path d="M480 822H505"/><path d="M485 821.5H510"/><path d="M447.5 875H499.4"/><path d="M505 872.5H525"/><path d="M418.5 887.2H461"/><path d="M460 889.1H480"/><path d="M465 895.5H490"/><path d="M489 891H510"/><path d="M402.5 898.5H463.4"/><path d="M489 913H508"/><path d="M508 910H528"/><path d="M415.5 926.2H462"/><path d="M428.5 933H454.5"/><path d="M404.5 939H456.5"/><path d="M417.5 949.4H463.4"/><path d="M464 926H490"/><path d="M480 925.5H505"/><path d="M484.4 936.5H494.4"/><path d="M455 938.5H484.4"/><path d="M494.4 940.5H517.4"/><path d="M503.4 936.5H527"/><path d="M503.4 951.4H517.4"/><path d="M456.5 962H481.4"/></g>
<g stroke="#a6a6a6" stroke-width="1.05" fill="none"><path d="M457.5 791.8V804.2M500.4 791.8V804.2"/><path d="M457.5 797.3V809.7M493.4 797.3V809.7"/><path d="M456.5 814.3V826.7M490 814.3V826.7"/><path d="M480 815.8V828.2M505 815.8V828.2"/><path d="M485 815.3V827.7M510 815.3V827.7"/><path d="M447.5 868.8V881.2M499.4 868.8V881.2"/><path d="M505 866.3V878.7M525 866.3V878.7"/><path d="M418.5 881V893.4M461 881V893.4"/><path d="M460 882.9V895.3M480 882.9V895.3"/><path d="M465 889.3V901.7M490 889.3V901.7"/><path d="M489 884.8V897.2M510 884.8V897.2"/><path d="M402.5 892.3V904.7M463.4 892.3V904.7"/><path d="M489 906.8V919.2M508 906.8V919.2"/><path d="M508 903.8V916.2M528 903.8V916.2"/><path d="M415.5 920V932.4M462 920V932.4"/><path d="M428.5 926.8V939.2M454.5 926.8V939.2"/><path d="M404.5 932.8V945.2M456.5 932.8V945.2"/><path d="M417.5 943.2V955.6M463.4 943.2V955.6"/><path d="M464 919.8V932.2M490 919.8V932.2"/><path d="M480 919.3V931.7M505 919.3V931.7"/><path d="M484.4 930.3V942.7M494.4 930.3V942.7"/><path d="M455 932.3V944.7M484.4 932.3V944.7"/><path d="M494.4 934.3V946.7M517.4 934.3V946.7"/><path d="M503.4 930.3V942.7M527 930.3V942.7"/><path d="M503.4 945.2V957.6M517.4 945.2V957.6"/><path d="M456.5 955.8V968.2M481.4 955.8V968.2"/></g>
<polyline points="430.5,907.5 460,904 480,901 500,897 518.4,893" fill="none" stroke="#6b9dcd" stroke-width="4.2" stroke-linejoin="round"/>
<polyline points="430,876.9 438,877.4 450,880.4 465,883.4 477,882.4 481,884.4 490,881.4 500,874.9 510,865.9 518.4,859.4" fill="none" stroke="#cf8a22" stroke-width="1.3" stroke-linejoin="round"/>
<polyline points="430,936 450,929 465,922 480,917 492,916 503,919 518.4,926" fill="none" stroke="#cf8a22" stroke-width="1.3" stroke-linejoin="round"/>
<g stroke="#000" stroke-width="1.2"><circle cx="477.4" cy="798" r="6.3" fill="#4a2b2d"/><circle cx="477.4" cy="803.5" r="6.3" fill="#4a2b2d"/><circle cx="477.4" cy="820.5" r="6.3" fill="#4a2b2d"/><circle cx="492.4" cy="822" r="6.3" fill="#4a2b2d"/><circle cx="498.4" cy="821.5" r="6.3" fill="#653e3f"/><circle cx="485.4" cy="875" r="6.3" fill="#4a2b2d"/><circle cx="516.4" cy="872.5" r="6.3" fill="#4a2b2d"/><circle cx="447.5" cy="887.2" r="6.3" fill="#f9f8f0"/><circle cx="469.4" cy="889.1" r="6.3" fill="#653e3f"/><circle cx="476.8" cy="895.5" r="6.3" fill="#653e3f"/><circle cx="498.4" cy="891" r="6.3" fill="#653e3f"/><circle cx="430.5" cy="898.5" r="6.3" fill="#7b4f50"/><circle cx="498.4" cy="913" r="6.3" fill="#653e3f"/><circle cx="518.4" cy="910" r="6.3" fill="#653e3f"/><circle cx="435.5" cy="926.2" r="6.3" fill="#7b4f50"/><circle cx="443" cy="933" r="6.3" fill="#7b4f50"/><circle cx="441.5" cy="939" r="6.3" fill="#c3807e"/><circle cx="443.5" cy="949.4" r="6.3" fill="#8c5c5c"/><circle cx="477.4" cy="926" r="6.3" fill="#4a2b2d"/><circle cx="492.4" cy="925.5" r="6.3" fill="#9d6967"/><circle cx="476.9" cy="936.5" r="6.3" fill="#9d6967"/><circle cx="469.4" cy="938.5" r="6.3" fill="#653e3f"/><circle cx="504.4" cy="940.5" r="6.3" fill="#8c5c5c"/><circle cx="516.4" cy="936.5" r="6.3" fill="#4a2b2d"/><circle cx="510.4" cy="951.4" r="6.3" fill="#8c5c5c"/><circle cx="472.4" cy="962" r="6.3" fill="#653e3f"/></g>
<g shape-rendering="crispEdges"><rect x="110.5" y="747.5" width="421" height="257" fill="none" stroke="#262626"/><path d="M285.5 1004.5v-4M285.5 747.5v4M461.5 1004.5v-4M461.5 747.5v4M162.5 1004.5v-2M162.5 747.5v2M193.5 1004.5v-2M193.5 747.5v2M215.5 1004.5v-2M215.5 747.5v2M232.5 1004.5v-2M232.5 747.5v2M246.5 1004.5v-2M246.5 747.5v2M258.5 1004.5v-2M258.5 747.5v2M268.5 1004.5v-2M268.5 747.5v2M277.5 1004.5v-2M277.5 747.5v2M338.5 1004.5v-2M338.5 747.5v2M369.5 1004.5v-2M369.5 747.5v2M391.5 1004.5v-2M391.5 747.5v2M408.5 1004.5v-2M408.5 747.5v2M422.5 1004.5v-2M422.5 747.5v2M434.5 1004.5v-2M434.5 747.5v2M444.5 1004.5v-2M444.5 747.5v2M453.5 1004.5v-2M453.5 747.5v2M514.5 1004.5v-2M514.5 747.5v2M110.5 1004.5h4M531.5 1004.5h-4M110.5 940.5h4M531.5 940.5h-4M110.5 876.5h4M531.5 876.5h-4M110.5 811.5h4M531.5 811.5h-4M110.5 747.5h4M531.5 747.5h-4" stroke="#262626" fill="none"/></g>
<g shape-rendering="crispEdges"><line x1="616.5" y1="748" x2="616.5" y2="1004.5" stroke="#b9b9b9" stroke-dasharray="1 3"/><line x1="647.5" y1="748" x2="647.5" y2="1004.5" stroke="#b9b9b9" stroke-dasharray="1 3"/><line x1="669.5" y1="748" x2="669.5" y2="1004.5" stroke="#b9b9b9" stroke-dasharray="1 3"/><line x1="686.5" y1="748" x2="686.5" y2="1004.5" stroke="#b9b9b9" stroke-dasharray="1 3"/><line x1="700.5" y1="748" x2="700.5" y2="1004.5" stroke="#b9b9b9" stroke-dasharray="1 3"/><line x1="712.5" y1="748" x2="712.5" y2="1004.5" stroke="#b9b9b9" stroke-dasharray="1 3"/><line x1="722.5" y1="748" x2="722.5" y2="1004.5" stroke="#b9b9b9" stroke-dasharray="1 3"/><line x1="731.5" y1="748" x2="731.5" y2="1004.5" stroke="#b9b9b9" stroke-dasharray="1 3"/><line x1="792.5" y1="748" x2="792.5" y2="1004.5" stroke="#b9b9b9" stroke-dasharray="1 3"/><line x1="823.5" y1="748" x2="823.5" y2="1004.5" stroke="#b9b9b9" stroke-dasharray="1 3"/><line x1="845.5" y1="748" x2="845.5" y2="1004.5" stroke="#b9b9b9" stroke-dasharray="1 3"/><line x1="862.5" y1="748" x2="862.5" y2="1004.5" stroke="#b9b9b9" stroke-dasharray="1 3"/><line x1="876.5" y1="748" x2="876.5" y2="1004.5" stroke="#b9b9b9" stroke-dasharray="1 3"/><line x1="888.5" y1="748" x2="888.5" y2="1004.5" stroke="#b9b9b9" stroke-dasharray="1 3"/><line x1="898.5" y1="748" x2="898.5" y2="1004.5" stroke="#b9b9b9" stroke-dasharray="1 3"/><line x1="907.5" y1="748" x2="907.5" y2="1004.5" stroke="#b9b9b9" stroke-dasharray="1 3"/><line x1="968.5" y1="748" x2="968.5" y2="1004.5" stroke="#b9b9b9" stroke-dasharray="1 3"/><line x1="739.5" y1="1004.5" x2="739.5" y2="747.5" stroke="#dfdfdf"/><line x1="915.5" y1="1004.5" x2="915.5" y2="747.5" stroke="#dfdfdf"/><line x1="563.5" y1="940.5" x2="985.5" y2="940.5" stroke="#dfdfdf"/><line x1="563.5" y1="876.5" x2="985.5" y2="876.5" stroke="#dfdfdf"/><line x1="563.5" y1="811.5" x2="985.5" y2="811.5" stroke="#dfdfdf"/></g>
<g stroke="#a9a9a9" stroke-width="1.05" fill="none"><path d="M892.4 860.1H929.6"/><path d="M898.5 854H923.3"/><path d="M830.8 871.1H844.4"/><path d="M901.6 876.2H936.5"/><path d="M876.7 885.1H910.7"/><path d="M682.6 909.3H911.6"/><path d="M895.5 951.2H920.6"/></g>
<g stroke="#a6a6a6" stroke-width="1.05" fill="none"><path d="M892.4 853.9V866.3M929.6 853.9V866.3"/><path d="M898.5 847.8V860.2M923.3 847.8V860.2"/><path d="M830.8 864.9V877.3M844.4 864.9V877.3"/><path d="M901.6 870V882.4M936.5 870V882.4"/><path d="M876.7 878.9V891.3M910.7 878.9V891.3"/><path d="M682.6 903.1V915.5M911.6 903.1V915.5"/><path d="M895.5 945V957.4M920.6 945V957.4"/></g>
<polyline points="834.8,893.3 838,890 844.4,889.8 879.3,887.2 900.2,885.4 918.6,884.5" fill="none" stroke="#6b9dcd" stroke-width="4.2" stroke-linejoin="round"/>
<polyline points="834.8,840.9 836.6,843.5 838.3,841.3 861.9,849.7 888.9,858 896.8,856.6 907.2,853.1 918.6,840.9" fill="none" stroke="#cf8a22" stroke-width="1.3" stroke-linejoin="round"/>
<polyline points="834.8,941.6 861.9,928.1 888,915.6 898.5,915.2 906.4,916.8 912.5,922.9 918.6,925.5" fill="none" stroke="#cf8a22" stroke-width="1.3" stroke-linejoin="round"/>
<g stroke="#000" stroke-width="1.2"><circle cx="908.4" cy="860.1" r="6.3" fill="#8c5c5c"/><circle cx="907.2" cy="854" r="6.3" fill="#ca998b"/><circle cx="837.5" cy="871.1" r="6.3" fill="#ca998b"/><circle cx="916.3" cy="876.2" r="6.3" fill="#8c5c5c"/><circle cx="900.2" cy="885.1" r="6.3" fill="#d4b194"/><circle cx="836.6" cy="909.3" r="6.3" fill="#ca998b"/><circle cx="904.6" cy="951.2" r="6.3" fill="#7b4f50"/></g>
<g shape-rendering="crispEdges"><rect x="563.5" y="747.5" width="422" height="257" fill="none" stroke="#262626"/><path d="M739.5 1004.5v-4M739.5 747.5v4M915.5 1004.5v-4M915.5 747.5v4M616.5 1004.5v-2M616.5 747.5v2M647.5 1004.5v-2M647.5 747.5v2M669.5 1004.5v-2M669.5 747.5v2M686.5 1004.5v-2M686.5 747.5v2M700.5 1004.5v-2M700.5 747.5v2M712.5 1004.5v-2M712.5 747.5v2M722.5 1004.5v-2M722.5 747.5v2M731.5 1004.5v-2M731.5 747.5v2M792.5 1004.5v-2M792.5 747.5v2M823.5 1004.5v-2M823.5 747.5v2M845.5 1004.5v-2M845.5 747.5v2M862.5 1004.5v-2M862.5 747.5v2M876.5 1004.5v-2M876.5 747.5v2M888.5 1004.5v-2M888.5 747.5v2M898.5 1004.5v-2M898.5 747.5v2M907.5 1004.5v-2M907.5 747.5v2M968.5 1004.5v-2M968.5 747.5v2M563.5 1004.5h4M985.5 1004.5h-4M563.5 940.5h4M985.5 940.5h-4M563.5 876.5h4M985.5 876.5h-4M563.5 811.5h4M985.5 811.5h-4M563.5 747.5h4M985.5 747.5h-4" stroke="#262626" fill="none"/></g>
<g shape-rendering="crispEdges"><line x1="1069.5" y1="748" x2="1069.5" y2="1004.5" stroke="#b9b9b9" stroke-dasharray="1 3"/><line x1="1100.5" y1="748" x2="1100.5" y2="1004.5" stroke="#b9b9b9" stroke-dasharray="1 3"/><line x1="1122.5" y1="748" x2="1122.5" y2="1004.5" stroke="#b9b9b9" stroke-dasharray="1 3"/><line x1="1139.5" y1="748" x2="1139.5" y2="1004.5" stroke="#b9b9b9" stroke-dasharray="1 3"/><line x1="1153.5" y1="748" x2="1153.5" y2="1004.5" stroke="#b9b9b9" stroke-dasharray="1 3"/><line x1="1165.5" y1="748" x2="1165.5" y2="1004.5" stroke="#b9b9b9" stroke-dasharray="1 3"/><line x1="1175.5" y1="748" x2="1175.5" y2="1004.5" stroke="#b9b9b9" stroke-dasharray="1 3"/><line x1="1184.5" y1="748" x2="1184.5" y2="1004.5" stroke="#b9b9b9" stroke-dasharray="1 3"/><line x1="1245.5" y1="748" x2="1245.5" y2="1004.5" stroke="#b9b9b9" stroke-dasharray="1 3"/><line x1="1276.5" y1="748" x2="1276.5" y2="1004.5" stroke="#b9b9b9" stroke-dasharray="1 3"/><line x1="1298.5" y1="748" x2="1298.5" y2="1004.5" stroke="#b9b9b9" stroke-dasharray="1 3"/><line x1="1315.5" y1="748" x2="1315.5" y2="1004.5" stroke="#b9b9b9" stroke-dasharray="1 3"/><line x1="1329.5" y1="748" x2="1329.5" y2="1004.5" stroke="#b9b9b9" stroke-dasharray="1 3"/><line x1="1341.5" y1="748" x2="1341.5" y2="1004.5" stroke="#b9b9b9" stroke-dasharray="1 3"/><line x1="1351.5" y1="748" x2="1351.5" y2="1004.5" stroke="#b9b9b9" stroke-dasharray="1 3"/><line x1="1360.5" y1="748" x2="1360.5" y2="1004.5" stroke="#b9b9b9" stroke-dasharray="1 3"/><line x1="1421.5" y1="748" x2="1421.5" y2="1004.5" stroke="#b9b9b9" stroke-dasharray="1 3"/><line x1="1192.5" y1="1004.5" x2="1192.5" y2="747.5" stroke="#dfdfdf"/><line x1="1368.5" y1="1004.5" x2="1368.5" y2="747.5" stroke="#dfdfdf"/><line x1="1016.5" y1="940.5" x2="1438.5" y2="940.5" stroke="#dfdfdf"/><line x1="1016.5" y1="876.5" x2="1438.5" y2="876.5" stroke="#dfdfdf"/><line x1="1016.5" y1="811.5" x2="1438.5" y2="811.5" stroke="#dfdfdf"/></g>
<g stroke="#a9a9a9" stroke-width="1.05" fill="none"><path d="M1315.5 826.2H1360.4"/><path d="M1307.4 848.1H1338.3"/><path d="M1291.5 855.3H1330"/><path d="M1323.9 859.6H1342.6"/><path d="M1203.4 880.2H1314.9"/><path d="M1265.3 882.5H1313.6"/><path d="M1272.4 880.2H1313.6"/><path d="M1281 890.3H1318"/><path d="M1141.2 897H1271.4"/><path d="M1203.6 902.5H1318.3"/><path d="M1313 896.5H1340"/><path d="M1261.7 905.5H1345"/><path d="M1317 912.8H1345.4"/><path d="M1320 919.1H1358.5"/><path d="M1322 927.4H1352"/><path d="M1309 925.1H1350"/><path d="M1310 934.9H1347"/><path d="M1308.9 938.1H1345.4"/><path d="M1315 947.1H1352"/><path d="M1317.3 947.1H1358.5"/><path d="M1345 905.3H1375"/><path d="M1350 911.8H1375"/><path d="M1374.5 919H1399.4"/><path d="M1355 953.2H1370"/></g>
<g stroke="#a6a6a6" stroke-width="1.05" fill="none"><path d="M1315.5 820V832.4M1360.4 820V832.4"/><path d="M1307.4 841.9V854.3M1338.3 841.9V854.3"/><path d="M1291.5 849.1V861.5M1330 849.1V861.5"/><path d="M1323.9 853.4V865.8M1342.6 853.4V865.8"/><path d="M1203.4 874V886.4M1314.9 874V886.4"/><path d="M1265.3 876.3V888.7M1313.6 876.3V888.7"/><path d="M1272.4 874V886.4M1313.6 874V886.4"/><path d="M1281 884.1V896.5M1318 884.1V896.5"/><path d="M1141.2 890.8V903.2M1271.4 890.8V903.2"/><path d="M1203.6 896.3V908.7M1318.3 896.3V908.7"/><path d="M1313 890.3V902.7M1340 890.3V902.7"/><path d="M1261.7 899.3V911.7M1345 899.3V911.7"/><path d="M1317 906.6V919M1345.4 906.6V919"/><path d="M1320 912.9V925.3M1358.5 912.9V925.3"/><path d="M1322 921.2V933.6M1352 921.2V933.6"/><path d="M1309 918.9V931.3M1350 918.9V931.3"/><path d="M1310 928.7V941.1M1347 928.7V941.1"/><path d="M1308.9 931.9V944.3M1345.4 931.9V944.3"/><path d="M1315 940.9V953.3M1352 940.9V953.3"/><path d="M1317.3 940.9V953.3M1358.5 940.9V953.3"/><path d="M1345 899.1V911.5M1375 899.1V911.5"/><path d="M1350 905.6V918M1375 905.6V918"/><path d="M1374.5 912.8V925.2M1399.4 912.8V925.2"/><path d="M1355 947V959.4M1370 947V959.4"/></g>
<polyline points="1237.3,887.1 1279.9,892.7 1308,897.4 1326.7,904.9 1345.4,910.5 1358.3,916.9 1370.2,923.8 1391.3,934.8 1404.4,945.2" fill="none" stroke="#6b9dcd" stroke-width="4.2" stroke-linejoin="round"/>
<polyline points="1237.3,865.6 1279.9,876.8 1308,884.3 1321.1,889 1336.1,895.5 1354.8,898.9 1373.5,899.8 1404.4,899.7" fill="none" stroke="#cf8a22" stroke-width="1.3" stroke-linejoin="round"/>
<polyline points="1237.3,909.6 1279.9,910.2 1308,912 1323,914.6 1336.1,919.9 1345.5,924.3 1361.1,934.8 1368.4,944 1380.3,956.8 1391.3,969.6 1397.7,979.7 1404.1,991.6" fill="none" stroke="#cf8a22" stroke-width="1.3" stroke-linejoin="round"/>
<g stroke="#000" stroke-width="1.2"><circle cx="1333.3" cy="826.2" r="6.3" fill="#b57574"/><circle cx="1327.3" cy="848.1" r="6.3" fill="#8c5c5c"/><circle cx="1309.3" cy="855.3" r="6.3" fill="#b57574"/><circle cx="1331.4" cy="859.6" r="6.3" fill="#7b4f50"/><circle cx="1248.4" cy="880.2" r="6.3" fill="#d4b194"/><circle cx="1294" cy="882.5" r="6.3" fill="#7b4f50"/><circle cx="1292.2" cy="880.2" r="6.3" fill="#dccaa1"/><circle cx="1300.5" cy="890.3" r="6.3" fill="#8c5c5c"/><circle cx="1237.3" cy="897" r="6.3" fill="#8c5c5c"/><circle cx="1295.2" cy="902.5" r="6.3" fill="#c3807e"/><circle cx="1326.3" cy="896.5" r="6.3" fill="#653e3f"/><circle cx="1329.1" cy="905.5" r="6.3" fill="#4a2b2d"/><circle cx="1331" cy="912.8" r="6.3" fill="#653e3f"/><circle cx="1340.4" cy="919.1" r="6.3" fill="#9d6967"/><circle cx="1337" cy="927.4" r="6.3" fill="#4a2b2d"/><circle cx="1329.1" cy="925.1" r="6.3" fill="#7b4f50"/><circle cx="1331.4" cy="934.9" r="6.3" fill="#653e3f"/><circle cx="1326.3" cy="938.1" r="6.3" fill="#7b4f50"/><circle cx="1330.4" cy="947.1" r="6.3" fill="#7b4f50"/><circle cx="1334.2" cy="947.1" r="6.3" fill="#4a2b2d"/><circle cx="1359.5" cy="905.3" r="6.3" fill="#4a2b2d"/><circle cx="1363.8" cy="911.8" r="6.3" fill="#4a2b2d"/><circle cx="1392.3" cy="919" r="6.3" fill="#4a2b2d"/><circle cx="1362.3" cy="953.2" r="6.3" fill="#653e3f"/></g>
<g shape-rendering="crispEdges"><rect x="1016.5" y="747.5" width="422" height="257" fill="none" stroke="#262626"/><path d="M1192.5 1004.5v-4M1192.5 747.5v4M1368.5 1004.5v-4M1368.5 747.5v4M1069.5 1004.5v-2M1069.5 747.5v2M1100.5 1004.5v-2M1100.5 747.5v2M1122.5 1004.5v-2M1122.5 747.5v2M1139.5 1004.5v-2M1139.5 747.5v2M1153.5 1004.5v-2M1153.5 747.5v2M1165.5 1004.5v-2M1165.5 747.5v2M1175.5 1004.5v-2M1175.5 747.5v2M1184.5 1004.5v-2M1184.5 747.5v2M1245.5 1004.5v-2M1245.5 747.5v2M1276.5 1004.5v-2M1276.5 747.5v2M1298.5 1004.5v-2M1298.5 747.5v2M1315.5 1004.5v-2M1315.5 747.5v2M1329.5 1004.5v-2M1329.5 747.5v2M1341.5 1004.5v-2M1341.5 747.5v2M1351.5 1004.5v-2M1351.5 747.5v2M1360.5 1004.5v-2M1360.5 747.5v2M1421.5 1004.5v-2M1421.5 747.5v2M1016.5 1004.5h4M1438.5 1004.5h-4M1016.5 940.5h4M1438.5 940.5h-4M1016.5 876.5h4M1438.5 876.5h-4M1016.5 811.5h4M1438.5 811.5h-4M1016.5 747.5h4M1438.5 747.5h-4" stroke="#262626" fill="none"/></g>
<text x="270.26" y="34" font-size="29.15" textLength="100" lengthAdjust="spacingAndGlyphs" fill="#000" >Tropics</text>
<text x="701.98" y="34" font-size="29.15" textLength="145.15" lengthAdjust="spacingAndGlyphs" fill="#000" >Subtropics</text>
<text x="1145.22" y="34" font-size="29.15" textLength="165.71" lengthAdjust="spacingAndGlyphs" fill="#000" >Extratropics</text>
<text x="86.51" y="52.87" font-size="26.71" textLength="13.94" lengthAdjust="spacingAndGlyphs" fill="#262626" >5</text>
<text x="1448.4" y="52.87" font-size="26.71" textLength="13.94" lengthAdjust="spacingAndGlyphs" fill="#262626" >5</text>
<text x="85.66" y="116.87" font-size="26.71" textLength="14.77" lengthAdjust="spacingAndGlyphs" fill="#262626" >0</text>
<text x="1448.36" y="116.87" font-size="26.71" textLength="14.77" lengthAdjust="spacingAndGlyphs" fill="#262626" >0</text>
<text x="76.51" y="180.87" font-size="26.71" textLength="24.03" lengthAdjust="spacingAndGlyphs" fill="#262626" >-5</text>
<text x="1448.2" y="180.87" font-size="26.71" textLength="24.03" lengthAdjust="spacingAndGlyphs" fill="#262626" >-5</text>
<text x="59.9" y="244.87" font-size="26.71" textLength="40.6" lengthAdjust="spacingAndGlyphs" fill="#262626" >-10</text>
<text x="1448.15" y="244.87" font-size="26.71" textLength="40.6" lengthAdjust="spacingAndGlyphs" fill="#262626" >-10</text>
<text x="60.44" y="308.87" font-size="26.71" textLength="40.13" lengthAdjust="spacingAndGlyphs" fill="#262626" >-15</text>
<text x="1448.17" y="308.87" font-size="26.71" textLength="40.13" lengthAdjust="spacingAndGlyphs" fill="#262626" >-15</text>
<text x="86.51" y="403.87" font-size="26.71" textLength="13.94" lengthAdjust="spacingAndGlyphs" fill="#262626" >5</text>
<text x="1448.4" y="403.87" font-size="26.71" textLength="13.94" lengthAdjust="spacingAndGlyphs" fill="#262626" >5</text>
<text x="85.66" y="468.12" font-size="26.71" textLength="14.77" lengthAdjust="spacingAndGlyphs" fill="#262626" >0</text>
<text x="1448.36" y="468.12" font-size="26.71" textLength="14.77" lengthAdjust="spacingAndGlyphs" fill="#262626" >0</text>
<text x="76.51" y="532.37" font-size="26.71" textLength="24.03" lengthAdjust="spacingAndGlyphs" fill="#262626" >-5</text>
<text x="1448.2" y="532.37" font-size="26.71" textLength="24.03" lengthAdjust="spacingAndGlyphs" fill="#262626" >-5</text>
<text x="59.9" y="596.62" font-size="26.71" textLength="40.6" lengthAdjust="spacingAndGlyphs" fill="#262626" >-10</text>
<text x="1448.15" y="596.62" font-size="26.71" textLength="40.6" lengthAdjust="spacingAndGlyphs" fill="#262626" >-10</text>
<text x="60.44" y="660.87" font-size="26.71" textLength="40.13" lengthAdjust="spacingAndGlyphs" fill="#262626" >-15</text>
<text x="1448.17" y="660.87" font-size="26.71" textLength="40.13" lengthAdjust="spacingAndGlyphs" fill="#262626" >-15</text>
<text x="86.51" y="755.87" font-size="26.71" textLength="13.94" lengthAdjust="spacingAndGlyphs" fill="#262626" >5</text>
<text x="1448.4" y="755.87" font-size="26.71" textLength="13.94" lengthAdjust="spacingAndGlyphs" fill="#262626" >5</text>
<text x="85.66" y="820.12" font-size="26.71" textLength="14.77" lengthAdjust="spacingAndGlyphs" fill="#262626" >0</text>
<text x="1448.36" y="820.12" font-size="26.71" textLength="14.77" lengthAdjust="spacingAndGlyphs" fill="#262626" >0</text>
<text x="76.51" y="884.37" font-size="26.71" textLength="24.03" lengthAdjust="spacingAndGlyphs" fill="#262626" >-5</text>
<text x="1448.2" y="884.37" font-size="26.71" textLength="24.03" lengthAdjust="spacingAndGlyphs" fill="#262626" >-5</text>
<text x="59.9" y="948.62" font-size="26.71" textLength="40.6" lengthAdjust="spacingAndGlyphs" fill="#262626" >-10</text>
<text x="1448.15" y="948.62" font-size="26.71" textLength="40.6" lengthAdjust="spacingAndGlyphs" fill="#262626" >-10</text>
<text x="60.44" y="1012.87" font-size="26.71" textLength="40.13" lengthAdjust="spacingAndGlyphs" fill="#262626" >-15</text>
<text x="1448.17" y="1012.87" font-size="26.71" textLength="40.13" lengthAdjust="spacingAndGlyphs" fill="#262626" >-15</text>
<text x="162.81" y="334.1" font-size="26.71" textLength="14.77" lengthAdjust="spacingAndGlyphs" fill="#262626" >0</text>
<text x="223.25" y="334.1" font-size="26.71" textLength="13.94" lengthAdjust="spacingAndGlyphs" fill="#262626" >5</text>
<text x="274.28" y="334.1" font-size="26.71" textLength="30.82" lengthAdjust="spacingAndGlyphs" fill="#262626" >10</text>
<text x="335.58" y="334.1" font-size="26.71" textLength="30.32" lengthAdjust="spacingAndGlyphs" fill="#262626" >15</text>
<text x="395.52" y="334.1" font-size="26.71" textLength="31.04" lengthAdjust="spacingAndGlyphs" fill="#262626" >20</text>
<text x="455.81" y="334.1" font-size="26.71" textLength="30.55" lengthAdjust="spacingAndGlyphs" fill="#262626" >25</text>
<text x="615.81" y="334.1" font-size="26.71" textLength="14.77" lengthAdjust="spacingAndGlyphs" fill="#262626" >0</text>
<text x="676.25" y="334.1" font-size="26.71" textLength="13.94" lengthAdjust="spacingAndGlyphs" fill="#262626" >5</text>
<text x="728.28" y="334.1" font-size="26.71" textLength="30.82" lengthAdjust="spacingAndGlyphs" fill="#262626" >10</text>
<text x="788.58" y="334.1" font-size="26.71" textLength="30.32" lengthAdjust="spacingAndGlyphs" fill="#262626" >15</text>
<text x="849.52" y="334.1" font-size="26.71" textLength="31.04" lengthAdjust="spacingAndGlyphs" fill="#262626" >20</text>
<text x="909.81" y="334.1" font-size="26.71" textLength="30.55" lengthAdjust="spacingAndGlyphs" fill="#262626" >25</text>
<text x="1069.81" y="334.1" font-size="26.71" textLength="14.77" lengthAdjust="spacingAndGlyphs" fill="#262626" >0</text>
<text x="1130.25" y="334.1" font-size="26.71" textLength="13.94" lengthAdjust="spacingAndGlyphs" fill="#262626" >5</text>
<text x="1181.28" y="334.1" font-size="26.71" textLength="30.82" lengthAdjust="spacingAndGlyphs" fill="#262626" >10</text>
<text x="1242.58" y="334.1" font-size="26.71" textLength="30.32" lengthAdjust="spacingAndGlyphs" fill="#262626" >15</text>
<text x="1302.52" y="334.1" font-size="26.71" textLength="31.04" lengthAdjust="spacingAndGlyphs" fill="#262626" >20</text>
<text x="1362.81" y="334.1" font-size="26.71" textLength="30.55" lengthAdjust="spacingAndGlyphs" fill="#262626" >25</text>
<text x="236.73" y="686.1" font-size="26.71" textLength="46.9" lengthAdjust="spacingAndGlyphs" fill="#262626" >100</text>
<text x="386.5" y="686.1" font-size="26.71" textLength="62.95" lengthAdjust="spacingAndGlyphs" fill="#262626" >1000</text>
<text x="494.45" y="686.1" font-size="26.71" textLength="62.75" lengthAdjust="spacingAndGlyphs" fill="#262626" >5000</text>
<text x="690.73" y="686.1" font-size="26.71" textLength="46.9" lengthAdjust="spacingAndGlyphs" fill="#262626" >100</text>
<text x="840.5" y="686.1" font-size="26.71" textLength="62.95" lengthAdjust="spacingAndGlyphs" fill="#262626" >1000</text>
<text x="948.45" y="686.1" font-size="26.71" textLength="62.75" lengthAdjust="spacingAndGlyphs" fill="#262626" >5000</text>
<text x="1143.73" y="686.1" font-size="26.71" textLength="46.9" lengthAdjust="spacingAndGlyphs" fill="#262626" >100</text>
<text x="1293.5" y="686.1" font-size="26.71" textLength="62.95" lengthAdjust="spacingAndGlyphs" fill="#262626" >1000</text>
<text x="1401.45" y="686.1" font-size="26.71" textLength="62.75" lengthAdjust="spacingAndGlyphs" fill="#262626" >5000</text>
<text x="258.43" y="1038.1" font-size="26.71" textLength="46.9" lengthAdjust="spacingAndGlyphs" fill="#262626" >100</text>
<text x="430.4" y="1038.1" font-size="26.71" textLength="62.95" lengthAdjust="spacingAndGlyphs" fill="#262626" >1000</text>
<text x="712.43" y="1038.1" font-size="26.71" textLength="46.9" lengthAdjust="spacingAndGlyphs" fill="#262626" >100</text>
<text x="884.4" y="1038.1" font-size="26.71" textLength="62.95" lengthAdjust="spacingAndGlyphs" fill="#262626" >1000</text>
<text x="1165.43" y="1038.1" font-size="26.71" textLength="46.9" lengthAdjust="spacingAndGlyphs" fill="#262626" >100</text>
<text x="1337.4" y="1038.1" font-size="26.71" textLength="62.95" lengthAdjust="spacingAndGlyphs" fill="#262626" >1000</text>
<text x="219.21" y="364" font-size="24.38" textLength="203.22" lengthAdjust="spacingAndGlyphs" fill="#262626" >Temperature (°C)</text>
<text x="672.46" y="364" font-size="24.38" textLength="203.22" lengthAdjust="spacingAndGlyphs" fill="#262626" >Temperature (°C)</text>
<text x="1125.71" y="364" font-size="24.38" textLength="203.22" lengthAdjust="spacingAndGlyphs" fill="#262626" >Temperature (°C)</text>
<text x="212.93" y="716" font-size="24.38" textLength="214.31" lengthAdjust="spacingAndGlyphs" fill="#262626" >Precipitation (mm)</text>
<text x="666.18" y="716" font-size="24.38" textLength="214.31" lengthAdjust="spacingAndGlyphs" fill="#262626" >Precipitation (mm)</text>
<text x="1119.43" y="716" font-size="24.38" textLength="214.31" lengthAdjust="spacingAndGlyphs" fill="#262626" >Precipitation (mm)</text>
<text x="216.45" y="1068" font-size="24.38" textLength="208.12" lengthAdjust="spacingAndGlyphs" fill="#262626" >Evaporation (mm)</text>
<text x="669.7" y="1068" font-size="24.38" textLength="208.12" lengthAdjust="spacingAndGlyphs" fill="#262626" >Evaporation (mm)</text>
<text x="1122.95" y="1068" font-size="24.38" textLength="208.12" lengthAdjust="spacingAndGlyphs" fill="#262626" >Evaporation (mm)</text>
<text x="112.43" y="73.9" font-size="25.65" textLength="32.89" lengthAdjust="spacingAndGlyphs" fill="#000" >(a)</text>
<text x="120.58" y="290" font-size="23.32" textLength="172.61" lengthAdjust="spacingAndGlyphs" fill="#000" >R²=0.02, p=0.6</text>
<text x="565.4" y="73.9" font-size="25.65" textLength="33.48" lengthAdjust="spacingAndGlyphs" fill="#000" >(b)</text>
<text x="573.58" y="290" font-size="23.32" textLength="172.48" lengthAdjust="spacingAndGlyphs" fill="#000" >R²=0.02, p=0.8</text>
<text x="1018.43" y="73.9" font-size="25.65" textLength="31.36" lengthAdjust="spacingAndGlyphs" fill="#000" >(c)</text>
<text x="1026.58" y="290" font-size="23.32" textLength="186.37" lengthAdjust="spacingAndGlyphs" fill="#000" >R²=0.18, p=0.04</text>
<text x="112.4" y="424.9" font-size="25.65" textLength="33.48" lengthAdjust="spacingAndGlyphs" fill="#000" >(d)</text>
<text x="120.58" y="642" font-size="23.32" textLength="172.61" lengthAdjust="spacingAndGlyphs" fill="#000" >R²=0.01, p=0.6</text>
<text x="565.43" y="424.9" font-size="25.65" textLength="32.96" lengthAdjust="spacingAndGlyphs" fill="#000" >(e)</text>
<text x="573.58" y="642" font-size="23.32" textLength="172.27" lengthAdjust="spacingAndGlyphs" fill="#000" >R²=0.04, p=0.7</text>
<text x="1018.34" y="424.9" font-size="25.65" textLength="26.76" lengthAdjust="spacingAndGlyphs" fill="#000" >(f)</text>
<text x="1026.58" y="642" font-size="23.32" textLength="172.61" lengthAdjust="spacingAndGlyphs" fill="#000" >R²=0.02, p=0.6</text>
<text x="112.4" y="776.9" font-size="25.65" textLength="33.48" lengthAdjust="spacingAndGlyphs" fill="#000" >(g)</text>
<text x="120.58" y="994" font-size="23.32" textLength="172.27" lengthAdjust="spacingAndGlyphs" fill="#000" >R²=0.01, p=0.7</text>
<text x="565.4" y="776.9" font-size="25.65" textLength="33.46" lengthAdjust="spacingAndGlyphs" fill="#000" >(h)</text>
<text x="573.58" y="994" font-size="23.32" textLength="172.27" lengthAdjust="spacingAndGlyphs" fill="#000" >R²=0.03, p=0.7</text>
<text x="1018.36" y="776.9" font-size="25.65" textLength="24.93" lengthAdjust="spacingAndGlyphs" fill="#000" >(i)</text>
<text x="1026.58" y="994" font-size="23.32" textLength="158.09" lengthAdjust="spacingAndGlyphs" fill="#000" >R²=0.1, p=0.1</text>
<g transform="translate(38.6,229.7) rotate(-90)" fill="#262626"><text x="0.3" y="-0.6" font-family="Liberation Serif" font-style="italic" font-size="23" textLength="8.6" lengthAdjust="spacingAndGlyphs" fill="#3a3a3a">δ</text><text x="11.2" y="-11.1" font-size="19.3" textLength="20.6" lengthAdjust="spacingAndGlyphs">13</text><text x="33.4" y="0" font-size="25.6" textLength="17" lengthAdjust="spacingAndGlyphs">C</text><text x="50.2" y="10.4" font-size="17.6" textLength="8" lengthAdjust="spacingAndGlyphs">c</text><text x="68.9" y="-2.8" font-size="21" textLength="46" lengthAdjust="spacingAndGlyphs">(‰)</text></g>
<g transform="translate(1523.6,229.7) rotate(-90)" fill="#262626"><text x="0.3" y="-0.6" font-family="Liberation Serif" font-style="italic" font-size="23" textLength="8.6" lengthAdjust="spacingAndGlyphs" fill="#3a3a3a">δ</text><text x="11.2" y="-11.1" font-size="19.3" textLength="20.6" lengthAdjust="spacingAndGlyphs">13</text><text x="33.4" y="0" font-size="25.6" textLength="17" lengthAdjust="spacingAndGlyphs">C</text><text x="50.2" y="10.4" font-size="17.6" textLength="8" lengthAdjust="spacingAndGlyphs">c</text><text x="68.9" y="-2.8" font-size="21" textLength="46" lengthAdjust="spacingAndGlyphs">(‰)</text></g>
<g transform="translate(38.6,581.2) rotate(-90)" fill="#262626"><text x="0.3" y="-0.6" font-family="Liberation Serif" font-style="italic" font-size="23" textLength="8.6" lengthAdjust="spacingAndGlyphs" fill="#3a3a3a">δ</text><text x="11.2" y="-11.1" font-size="19.3" textLength="20.6" lengthAdjust="spacingAndGlyphs">13</text><text x="33.4" y="0" font-size="25.6" textLength="17" lengthAdjust="spacingAndGlyphs">C</text><text x="50.2" y="10.4" font-size="17.6" textLength="8" lengthAdjust="spacingAndGlyphs">c</text><text x="68.9" y="-2.8" font-size="21" textLength="46" lengthAdjust="spacingAndGlyphs">(‰)</text></g>
<g transform="translate(1523.6,581.2) rotate(-90)" fill="#262626"><text x="0.3" y="-0.6" font-family="Liberation Serif" font-style="italic" font-size="23" textLength="8.6" lengthAdjust="spacingAndGlyphs" fill="#3a3a3a">δ</text><text x="11.2" y="-11.1" font-size="19.3" textLength="20.6" lengthAdjust="spacingAndGlyphs">13</text><text x="33.4" y="0" font-size="25.6" textLength="17" lengthAdjust="spacingAndGlyphs">C</text><text x="50.2" y="10.4" font-size="17.6" textLength="8" lengthAdjust="spacingAndGlyphs">c</text><text x="68.9" y="-2.8" font-size="21" textLength="46" lengthAdjust="spacingAndGlyphs">(‰)</text></g>
<g transform="translate(38.6,933.2) rotate(-90)" fill="#262626"><text x="0.3" y="-0.6" font-family="Liberation Serif" font-style="italic" font-size="23" textLength="8.6" lengthAdjust="spacingAndGlyphs" fill="#3a3a3a">δ</text><text x="11.2" y="-11.1" font-size="19.3" textLength="20.6" lengthAdjust="spacingAndGlyphs">13</text><text x="33.4" y="0" font-size="25.6" textLength="17" lengthAdjust="spacingAndGlyphs">C</text><text x="50.2" y="10.4" font-size="17.6" textLength="8" lengthAdjust="spacingAndGlyphs">c</text><text x="68.9" y="-2.8" font-size="21" textLength="46" lengthAdjust="spacingAndGlyphs">(‰)</text></g>
<g transform="translate(1523.6,933.2) rotate(-90)" fill="#262626"><text x="0.3" y="-0.6" font-family="Liberation Serif" font-style="italic" font-size="23" textLength="8.6" lengthAdjust="spacingAndGlyphs" fill="#3a3a3a">δ</text><text x="11.2" y="-11.1" font-size="19.3" textLength="20.6" lengthAdjust="spacingAndGlyphs">13</text><text x="33.4" y="0" font-size="25.6" textLength="17" lengthAdjust="spacingAndGlyphs">C</text><text x="50.2" y="10.4" font-size="17.6" textLength="8" lengthAdjust="spacingAndGlyphs">c</text><text x="68.9" y="-2.8" font-size="21" textLength="46" lengthAdjust="spacingAndGlyphs">(‰)</text></g>
<rect x="20.2" y="1101.7" width="27.46" height="28.6" fill="#4a2b2d"/><rect x="47.06" y="1101.7" width="27.46" height="28.6" fill="#653e3f"/><rect x="73.92" y="1101.7" width="27.46" height="28.6" fill="#7b4f50"/><rect x="100.78" y="1101.7" width="27.46" height="28.6" fill="#8c5c5c"/><rect x="127.64" y="1101.7" width="27.46" height="28.6" fill="#9d6967"/><rect x="154.5" y="1101.7" width="27.46" height="28.6" fill="#b07170"/><rect x="181.36" y="1101.7" width="27.46" height="28.6" fill="#b57574"/><rect x="208.22" y="1101.7" width="27.46" height="28.6" fill="#c3807e"/><rect x="235.08" y="1101.7" width="27.46" height="28.6" fill="#ca998b"/><rect x="261.94" y="1101.7" width="27.46" height="28.6" fill="#cfa590"/><rect x="288.8" y="1101.7" width="27.46" height="28.6" fill="#d4b194"/><rect x="315.66" y="1101.7" width="27.46" height="28.6" fill="#d7c19d"/><rect x="342.52" y="1101.7" width="27.46" height="28.6" fill="#dccaa1"/><rect x="369.38" y="1101.7" width="27.46" height="28.6" fill="#e1d5a8"/><rect x="396.24" y="1101.7" width="27.46" height="28.6" fill="#e6e4b5"/><rect x="423.1" y="1101.7" width="27.46" height="28.6" fill="#e6e4b5"/><rect x="449.96" y="1101.7" width="27.46" height="28.6" fill="#f0edcf"/><rect x="476.82" y="1101.7" width="27.46" height="28.6" fill="#f1ecd5"/><rect x="503.68" y="1101.7" width="27.46" height="28.6" fill="#f5f5e4"/><rect x="530.54" y="1101.7" width="27.46" height="28.6" fill="#f9f8f0"/>
<path d="M20.5 1130.3v-4M154.5 1130.3v-4M288.5 1130.3v-4M423.5 1130.3v-4M557.5 1130.3v-4" stroke="#262626" fill="none" shape-rendering="crispEdges"/>
<rect x="20.5" y="1101.5" width="537" height="29" fill="none" stroke="#4a4a4a" shape-rendering="crispEdges"/>
<text x="13.8" y="1158.7" font-size="22.05" textLength="12.19" lengthAdjust="spacingAndGlyphs" fill="#262626" >0</text>
<text x="127.69" y="1158.7" font-size="22.05" textLength="51.96" lengthAdjust="spacingAndGlyphs" fill="#262626" >1000</text>
<text x="262.41" y="1158.7" font-size="22.05" textLength="52.12" lengthAdjust="spacingAndGlyphs" fill="#262626" >2000</text>
<text x="396.93" y="1158.7" font-size="22.05" textLength="51.76" lengthAdjust="spacingAndGlyphs" fill="#262626" >3000</text>
<text x="531.29" y="1158.7" font-size="22.05" textLength="51.99" lengthAdjust="spacingAndGlyphs" fill="#262626" >4000</text>
<text x="206.76" y="1185.1" font-size="21.52" textLength="164.2" lengthAdjust="spacingAndGlyphs" fill="#262626" >Altitude (m a.s.l.)</text>
<circle cx="643" cy="1146.2" r="7.3" fill="#000"/>
<text x="687.66" y="1155.3" font-size="26.92" textLength="288.11" lengthAdjust="spacingAndGlyphs" fill="#000" >Model ensemble mean</text>
<line x1="988.7" y1="1146.2" x2="1065.8" y2="1146.2" stroke="#6b9dcd" stroke-width="4.5"/>
<text x="1069.99" y="1155.3" font-size="26.92" textLength="112.49" lengthAdjust="spacingAndGlyphs" fill="#000" >Linear fit</text>
<line x1="1199" y1="1146.4" x2="1276.5" y2="1146.4" stroke="#cf8a22" stroke-width="1.3"/>
<text x="1280.79" y="1155.9" font-size="26.92" textLength="33.49" lengthAdjust="spacingAndGlyphs" fill="#000" >90</text>
<text x="1317.09" y="1155.9" font-size="26.92" textLength="195.54" lengthAdjust="spacingAndGlyphs" fill="#000" >% conf. bounds</text>
</svg></body></html>
